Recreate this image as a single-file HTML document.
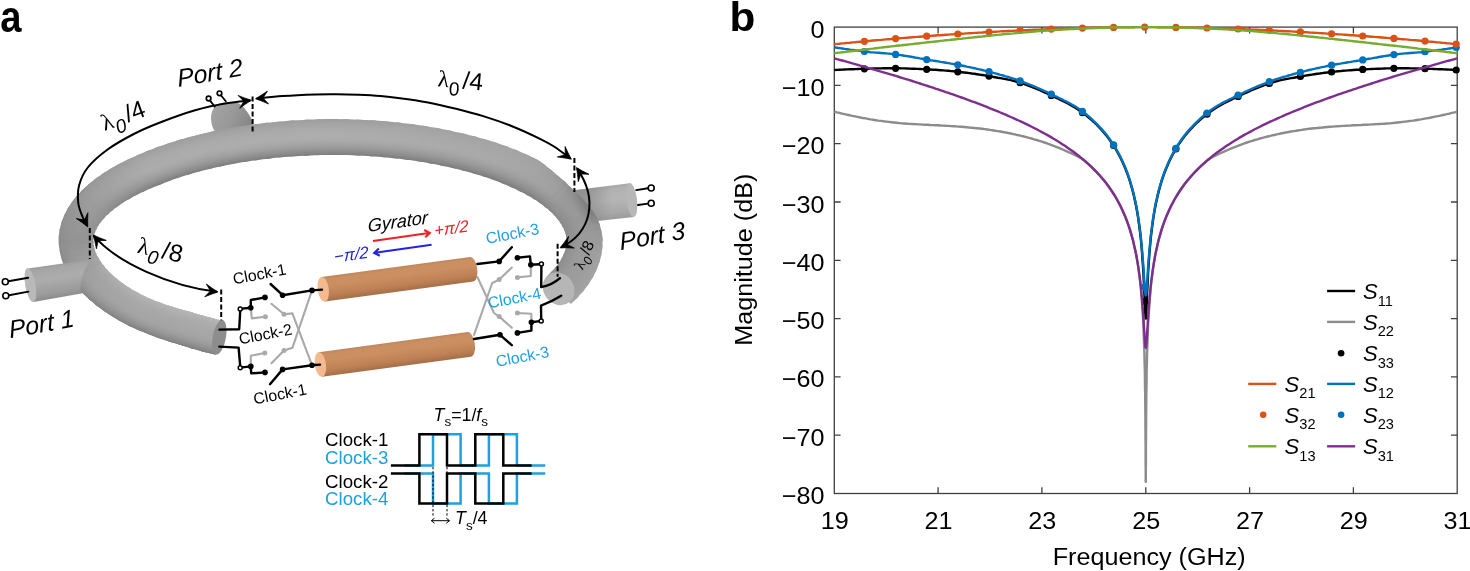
<!DOCTYPE html>
<html lang="en"><head><meta charset="utf-8"><title>Figure</title>
<style>
html,body{margin:0;padding:0;background:#fff;}
body{width:1470px;height:571px;overflow:hidden;}
svg{display:block;font-family:"Liberation Sans",Arial,Helvetica,sans-serif;}
</style></head><body>
<svg width="1470" height="571" viewBox="0 0 1470 571">
<defs>
<clipPath id="ringclip"><path d="M215.7,354.8 L210.7,353.6 L205.7,352.3 L200.7,351.0 L195.9,349.6 L191.0,348.2 L186.3,346.7 L181.6,345.2 L176.9,343.8 L172.3,342.4 L167.8,341.0 L163.3,339.5 L158.9,337.9 L154.5,336.4 L150.2,334.8 L146.0,333.1 L141.9,331.4 L137.8,329.7 L133.8,328.0 L129.9,326.2 L126.1,324.3 L122.4,322.3 L118.8,320.3 L115.3,318.2 L111.8,316.1 L108.5,313.9 L105.2,311.7 L102.1,309.5 L99.0,307.2 L96.0,304.9 L93.1,302.6 L90.3,300.2 L87.6,297.8 L85.0,295.3 L82.5,292.8 L80.1,290.2 L77.9,287.6 L75.7,284.9 L73.6,282.2 L71.7,279.5 L69.9,276.7 L68.1,273.8 L66.6,270.9 L65.1,267.9 L63.8,264.9 L62.6,261.9 L61.6,258.8 L60.7,255.7 L60.0,252.5 L59.4,249.3 L59.0,246.1 L58.7,242.9 L58.6,239.7 L58.8,236.5 L59.1,233.4 L59.5,230.3 L60.2,227.2 L61.0,224.1 L61.9,221.1 L63.0,218.2 L64.2,215.2 L65.6,212.4 L67.1,209.6 L68.8,206.8 L70.5,204.1 L72.4,201.4 L74.4,198.8 L76.5,196.2 L78.7,193.7 L81.0,191.3 L83.4,188.9 L86.0,186.5 L88.6,184.2 L91.3,181.9 L94.2,179.7 L97.1,177.5 L100.1,175.4 L103.2,173.2 L106.4,171.2 L109.7,169.2 L113.1,167.2 L116.5,165.3 L120.1,163.4 L123.7,161.5 L127.4,159.7 L131.2,157.9 L135.1,156.2 L139.1,154.5 L143.1,152.8 L147.2,151.1 L151.4,149.5 L155.6,147.8 L159.9,146.3 L164.3,144.7 L168.8,143.2 L173.3,141.8 L177.9,140.3 L182.6,139.0 L187.3,137.6 L192.1,136.4 L197.0,135.1 L201.9,133.9 L206.8,132.7 L211.9,131.6 L216.9,130.6 L222.0,129.5 L227.2,128.6 L232.4,127.6 L237.7,126.8 L243.0,125.9 L248.3,125.1 L253.7,124.4 L259.1,123.7 L264.5,123.1 L270.0,122.5 L275.5,121.9 L281.0,121.4 L286.5,120.9 L292.1,120.5 L297.7,120.2 L303.3,119.9 L308.9,119.6 L314.5,119.4 L320.1,119.3 L325.7,119.1 L331.3,119.1 L337.0,119.1 L342.6,119.2 L348.2,119.3 L353.8,119.5 L359.4,119.7 L365.0,120.0 L370.6,120.3 L376.2,120.6 L381.7,121.1 L387.2,121.5 L392.7,122.0 L398.2,122.6 L403.6,123.2 L409.0,123.8 L414.4,124.6 L419.7,125.3 L425.0,126.1 L430.3,126.9 L435.5,127.8 L440.6,128.8 L445.8,129.8 L450.8,130.8 L455.9,131.9 L460.8,133.0 L465.7,134.1 L470.6,135.4 L475.4,136.6 L480.1,137.9 L484.8,139.2 L489.4,140.6 L494.0,142.1 L498.4,143.5 L502.8,145.0 L507.2,146.6 L511.4,148.2 L515.6,149.8 L519.7,151.5 L523.7,153.2 L527.7,155.0 L531.5,156.8 L535.3,158.7 L539.0,160.6 L542.3,163.0 L545.6,165.4 L548.7,167.9 L551.8,170.4 L554.7,172.9 L557.5,175.4 L560.3,177.8 L563.1,180.1 L565.8,182.5 L568.3,184.9 L570.8,187.4 L573.1,189.8 L575.4,192.3 L577.9,194.4 L580.3,196.7 L582.7,199.0 L584.9,201.3 L587.0,203.7 L589.0,206.2 L591.0,208.7 L592.9,211.3 L594.6,213.9 L596.3,216.7 L597.8,219.5 L599.0,222.4 L600.0,225.5 L600.8,228.5 L601.5,231.6 L602.1,234.8 L602.5,238.0 L602.6,241.2 L602.5,244.5 L602.3,247.8 L601.9,251.1 L601.4,254.4 L600.7,257.6 L599.8,260.9 L598.8,264.1 L597.6,267.2 L596.3,270.3 L594.8,273.4 L593.3,276.4 L591.5,279.4 L589.7,282.4 L587.7,285.2 L585.7,288.1 L583.5,290.9 L581.1,293.6 L578.7,296.3 L576.2,299.0 L573.5,301.6 L570.8,304.1 L546.6,276.4 L548.6,274.6 L550.5,272.7 L552.3,270.8 L554.0,269.0 L555.6,267.2 L557.0,265.3 L558.4,263.5 L559.6,261.7 L560.7,260.0 L561.7,258.2 L562.6,256.5 L563.4,254.8 L564.1,253.1 L564.7,251.5 L565.3,249.8 L565.7,248.3 L566.0,246.7 L566.3,245.1 L566.5,243.6 L566.6,242.1 L566.6,240.6 L566.5,239.2 L566.4,237.9 L566.2,236.6 L565.9,235.2 L565.6,233.9 L565.1,232.6 L564.6,231.2 L564.1,229.8 L563.4,228.3 L562.7,226.9 L561.9,225.4 L560.9,223.8 L559.9,222.3 L558.7,220.7 L557.5,219.1 L556.1,217.5 L554.7,215.8 L553.1,214.1 L551.4,212.5 L549.6,210.8 L547.7,209.1 L545.6,207.4 L543.5,205.7 L541.2,204.0 L538.8,202.3 L536.3,200.6 L533.7,199.0 L531.0,197.3 L528.2,195.7 L525.3,194.1 L522.3,192.5 L519.1,190.9 L515.9,189.3 L512.6,187.7 L509.2,186.2 L505.7,184.7 L502.1,183.2 L498.4,181.8 L494.6,180.3 L490.8,178.9 L486.9,177.6 L482.8,176.3 L478.7,175.0 L474.6,173.7 L470.3,172.5 L466.0,171.3 L461.6,170.2 L457.1,169.0 L452.6,168.0 L448.0,166.9 L443.4,165.9 L438.7,165.0 L433.9,164.1 L429.1,163.2 L424.3,162.3 L419.4,161.6 L414.4,160.8 L409.4,160.1 L404.4,159.4 L399.3,158.8 L394.2,158.2 L389.1,157.7 L383.9,157.2 L378.8,156.8 L373.5,156.4 L368.3,156.0 L363.0,155.7 L357.8,155.5 L352.5,155.3 L347.2,155.1 L341.9,155.0 L336.6,154.9 L331.3,154.9 L326.0,154.9 L320.6,155.1 L315.3,155.2 L310.0,155.4 L304.8,155.7 L299.5,155.9 L294.2,156.3 L289.0,156.7 L283.8,157.1 L278.6,157.6 L273.4,158.1 L268.3,158.7 L263.2,159.3 L258.1,159.9 L253.1,160.6 L248.1,161.4 L243.1,162.1 L238.2,163.0 L233.4,163.8 L228.6,164.8 L223.8,165.7 L219.1,166.7 L214.4,167.7 L209.9,168.8 L205.3,169.9 L200.9,171.1 L196.5,172.2 L192.2,173.5 L187.9,174.7 L183.8,176.0 L179.7,177.3 L175.6,178.7 L171.7,180.1 L167.8,181.5 L164.1,182.9 L160.4,184.4 L156.8,185.9 L153.2,187.3 L149.8,188.7 L146.4,190.2 L143.2,191.7 L140.0,193.2 L136.9,194.7 L134.0,196.3 L131.1,197.9 L128.3,199.4 L125.7,201.0 L123.1,202.6 L120.7,204.2 L118.3,205.9 L116.1,207.5 L114.0,209.1 L112.0,210.7 L110.1,212.3 L108.3,213.9 L106.6,215.5 L105.1,217.1 L103.6,218.7 L102.3,220.3 L101.0,221.8 L99.9,223.3 L98.9,224.8 L97.9,226.3 L97.1,227.7 L96.4,229.2 L95.7,230.6 L95.2,231.9 L94.7,233.3 L94.3,234.6 L94.0,235.9 L93.7,237.3 L93.5,238.6 L93.4,239.9 L93.4,241.4 L93.5,242.9 L93.6,244.4 L93.9,245.9 L94.2,247.5 L94.6,249.1 L95.1,250.7 L95.7,252.3 L96.3,253.9 L97.1,255.6 L98.0,257.3 L99.0,259.0 L100.0,260.8 L101.2,262.5 L102.5,264.3 L103.9,266.1 L105.4,268.0 L107.1,269.8 L108.8,271.6 L110.6,273.5 L112.6,275.3 L114.7,277.1 L116.9,279.0 L119.2,280.8 L121.6,282.6 L124.2,284.4 L126.8,286.2 L129.6,288.0 L132.4,289.7 L135.4,291.4 L138.5,293.1 L141.6,294.8 L144.9,296.4 L148.3,297.9 L151.8,299.4 L155.4,300.9 L159.1,302.3 L162.9,303.7 L166.7,305.0 L170.7,306.3 L174.7,307.5 L178.8,308.7 L182.9,309.9 L187.2,311.0 L191.4,312.2 L195.7,313.6 L200.1,314.9 L204.5,316.1 L209.0,317.3 L213.6,318.5 L218.2,319.7 L222.9,320.7Z"/></clipPath>
<linearGradient id="rg0" gradientUnits="userSpaceOnUse" x1="217.3" y1="319.4" x2="209.7" y2="353.3"><stop offset="0.000" stop-color="#b6b6b6"/><stop offset="0.125" stop-color="#afafaf"/><stop offset="0.250" stop-color="#ababab"/><stop offset="0.375" stop-color="#a8a8a8"/><stop offset="0.500" stop-color="#a7a7a7"/><stop offset="0.625" stop-color="#a5a5a5"/><stop offset="0.750" stop-color="#9d9d9d"/><stop offset="0.875" stop-color="#919191"/><stop offset="1.000" stop-color="#808080"/></linearGradient>
<linearGradient id="rg1" gradientUnits="userSpaceOnUse" x1="206.3" y1="316.6" x2="197.8" y2="350.1"><stop offset="0.000" stop-color="#b6b6b6"/><stop offset="0.125" stop-color="#afafaf"/><stop offset="0.250" stop-color="#ababab"/><stop offset="0.375" stop-color="#a8a8a8"/><stop offset="0.500" stop-color="#a7a7a7"/><stop offset="0.625" stop-color="#a4a4a4"/><stop offset="0.750" stop-color="#9d9d9d"/><stop offset="0.875" stop-color="#919191"/><stop offset="1.000" stop-color="#808080"/></linearGradient>
<linearGradient id="rg2" gradientUnits="userSpaceOnUse" x1="195.7" y1="313.5" x2="186.2" y2="346.7"><stop offset="0.000" stop-color="#b5b5b5"/><stop offset="0.125" stop-color="#afafaf"/><stop offset="0.250" stop-color="#aaaaaa"/><stop offset="0.375" stop-color="#a8a8a8"/><stop offset="0.500" stop-color="#a7a7a7"/><stop offset="0.625" stop-color="#a4a4a4"/><stop offset="0.750" stop-color="#9d9d9d"/><stop offset="0.875" stop-color="#919191"/><stop offset="1.000" stop-color="#808080"/></linearGradient>
<linearGradient id="rg3" gradientUnits="userSpaceOnUse" x1="185.4" y1="310.6" x2="175.0" y2="343.2"><stop offset="0.000" stop-color="#b5b5b5"/><stop offset="0.125" stop-color="#afafaf"/><stop offset="0.250" stop-color="#aaaaaa"/><stop offset="0.375" stop-color="#a7a7a7"/><stop offset="0.500" stop-color="#a7a7a7"/><stop offset="0.625" stop-color="#a4a4a4"/><stop offset="0.750" stop-color="#9d9d9d"/><stop offset="0.875" stop-color="#919191"/><stop offset="1.000" stop-color="#808080"/></linearGradient>
<linearGradient id="rg4" gradientUnits="userSpaceOnUse" x1="175.4" y1="307.7" x2="164.0" y2="339.7"><stop offset="0.000" stop-color="#b5b5b5"/><stop offset="0.125" stop-color="#afafaf"/><stop offset="0.250" stop-color="#aaaaaa"/><stop offset="0.375" stop-color="#a7a7a7"/><stop offset="0.500" stop-color="#a6a6a6"/><stop offset="0.625" stop-color="#a4a4a4"/><stop offset="0.750" stop-color="#9d9d9d"/><stop offset="0.875" stop-color="#919191"/><stop offset="1.000" stop-color="#808080"/></linearGradient>
<linearGradient id="rg5" gradientUnits="userSpaceOnUse" x1="165.8" y1="304.7" x2="153.5" y2="336.0"><stop offset="0.000" stop-color="#b5b5b5"/><stop offset="0.125" stop-color="#aeaeae"/><stop offset="0.250" stop-color="#aaaaaa"/><stop offset="0.375" stop-color="#a7a7a7"/><stop offset="0.500" stop-color="#a6a6a6"/><stop offset="0.625" stop-color="#a4a4a4"/><stop offset="0.750" stop-color="#9d9d9d"/><stop offset="0.875" stop-color="#919191"/><stop offset="1.000" stop-color="#808080"/></linearGradient>
<linearGradient id="rg6" gradientUnits="userSpaceOnUse" x1="156.7" y1="301.4" x2="143.4" y2="332.0"><stop offset="0.000" stop-color="#b4b4b4"/><stop offset="0.125" stop-color="#aeaeae"/><stop offset="0.250" stop-color="#aaaaaa"/><stop offset="0.375" stop-color="#a7a7a7"/><stop offset="0.500" stop-color="#a6a6a6"/><stop offset="0.625" stop-color="#a4a4a4"/><stop offset="0.750" stop-color="#9d9d9d"/><stop offset="0.875" stop-color="#919191"/><stop offset="1.000" stop-color="#808080"/></linearGradient>
<linearGradient id="rg7" gradientUnits="userSpaceOnUse" x1="148.2" y1="297.9" x2="133.6" y2="327.9"><stop offset="0.000" stop-color="#b4b4b4"/><stop offset="0.125" stop-color="#aeaeae"/><stop offset="0.250" stop-color="#aaaaaa"/><stop offset="0.375" stop-color="#a7a7a7"/><stop offset="0.500" stop-color="#a6a6a6"/><stop offset="0.625" stop-color="#a4a4a4"/><stop offset="0.750" stop-color="#9d9d9d"/><stop offset="0.875" stop-color="#919191"/><stop offset="1.000" stop-color="#808080"/></linearGradient>
<linearGradient id="rg8" gradientUnits="userSpaceOnUse" x1="140.2" y1="294.0" x2="124.4" y2="323.4"><stop offset="0.000" stop-color="#b4b4b4"/><stop offset="0.125" stop-color="#aeaeae"/><stop offset="0.250" stop-color="#a9a9a9"/><stop offset="0.375" stop-color="#a7a7a7"/><stop offset="0.500" stop-color="#a6a6a6"/><stop offset="0.625" stop-color="#a3a3a3"/><stop offset="0.750" stop-color="#9c9c9c"/><stop offset="0.875" stop-color="#919191"/><stop offset="1.000" stop-color="#808080"/></linearGradient>
<linearGradient id="rg9" gradientUnits="userSpaceOnUse" x1="132.8" y1="289.9" x2="115.7" y2="318.5"><stop offset="0.000" stop-color="#b2b2b2"/><stop offset="0.125" stop-color="#adadad"/><stop offset="0.250" stop-color="#a8a8a8"/><stop offset="0.375" stop-color="#a6a6a6"/><stop offset="0.500" stop-color="#a5a5a5"/><stop offset="0.625" stop-color="#a3a3a3"/><stop offset="0.750" stop-color="#9c9c9c"/><stop offset="0.875" stop-color="#919191"/><stop offset="1.000" stop-color="#818181"/></linearGradient>
<linearGradient id="rg10" gradientUnits="userSpaceOnUse" x1="126.1" y1="285.7" x2="107.6" y2="313.3"><stop offset="0.000" stop-color="#b1b1b1"/><stop offset="0.125" stop-color="#acacac"/><stop offset="0.250" stop-color="#a8a8a8"/><stop offset="0.375" stop-color="#a5a5a5"/><stop offset="0.500" stop-color="#a5a5a5"/><stop offset="0.625" stop-color="#a2a2a2"/><stop offset="0.750" stop-color="#9c9c9c"/><stop offset="0.875" stop-color="#919191"/><stop offset="1.000" stop-color="#828282"/></linearGradient>
<linearGradient id="rg11" gradientUnits="userSpaceOnUse" x1="120.0" y1="281.4" x2="100.0" y2="307.9"><stop offset="0.000" stop-color="#b0b0b0"/><stop offset="0.125" stop-color="#ababab"/><stop offset="0.250" stop-color="#a7a7a7"/><stop offset="0.375" stop-color="#a5a5a5"/><stop offset="0.500" stop-color="#a4a4a4"/><stop offset="0.625" stop-color="#a2a2a2"/><stop offset="0.750" stop-color="#9c9c9c"/><stop offset="0.875" stop-color="#919191"/><stop offset="1.000" stop-color="#838383"/></linearGradient>
<linearGradient id="rg12" gradientUnits="userSpaceOnUse" x1="114.5" y1="277.0" x2="92.9" y2="302.4"><stop offset="0.000" stop-color="#afafaf"/><stop offset="0.125" stop-color="#aaaaaa"/><stop offset="0.250" stop-color="#a6a6a6"/><stop offset="0.375" stop-color="#a4a4a4"/><stop offset="0.500" stop-color="#a3a3a3"/><stop offset="0.625" stop-color="#a1a1a1"/><stop offset="0.750" stop-color="#9c9c9c"/><stop offset="0.875" stop-color="#929292"/><stop offset="1.000" stop-color="#848484"/></linearGradient>
<linearGradient id="rg13" gradientUnits="userSpaceOnUse" x1="109.7" y1="272.6" x2="86.3" y2="296.6"><stop offset="0.000" stop-color="#aeaeae"/><stop offset="0.125" stop-color="#a9a9a9"/><stop offset="0.250" stop-color="#a5a5a5"/><stop offset="0.375" stop-color="#a3a3a3"/><stop offset="0.500" stop-color="#a3a3a3"/><stop offset="0.625" stop-color="#a1a1a1"/><stop offset="0.750" stop-color="#9b9b9b"/><stop offset="0.875" stop-color="#929292"/><stop offset="1.000" stop-color="#858585"/></linearGradient>
<linearGradient id="rg14" gradientUnits="userSpaceOnUse" x1="105.6" y1="268.1" x2="80.4" y2="290.5"><stop offset="0.000" stop-color="#acacac"/><stop offset="0.125" stop-color="#a8a8a8"/><stop offset="0.250" stop-color="#a5a5a5"/><stop offset="0.375" stop-color="#a3a3a3"/><stop offset="0.500" stop-color="#a2a2a2"/><stop offset="0.625" stop-color="#a0a0a0"/><stop offset="0.750" stop-color="#9b9b9b"/><stop offset="0.875" stop-color="#929292"/><stop offset="1.000" stop-color="#868686"/></linearGradient>
<linearGradient id="rg15" gradientUnits="userSpaceOnUse" x1="102.1" y1="263.8" x2="75.0" y2="284.1"><stop offset="0.000" stop-color="#aaaaaa"/><stop offset="0.125" stop-color="#a6a6a6"/><stop offset="0.250" stop-color="#a3a3a3"/><stop offset="0.375" stop-color="#a1a1a1"/><stop offset="0.500" stop-color="#a1a1a1"/><stop offset="0.625" stop-color="#9f9f9f"/><stop offset="0.750" stop-color="#9a9a9a"/><stop offset="0.875" stop-color="#929292"/><stop offset="1.000" stop-color="#878787"/></linearGradient>
<linearGradient id="rg16" gradientUnits="userSpaceOnUse" x1="99.3" y1="259.5" x2="70.4" y2="277.5"><stop offset="0.000" stop-color="#a7a7a7"/><stop offset="0.125" stop-color="#a3a3a3"/><stop offset="0.250" stop-color="#a0a0a0"/><stop offset="0.375" stop-color="#9f9f9f"/><stop offset="0.500" stop-color="#9e9e9e"/><stop offset="0.625" stop-color="#9d9d9d"/><stop offset="0.750" stop-color="#999999"/><stop offset="0.875" stop-color="#919191"/><stop offset="1.000" stop-color="#878787"/></linearGradient>
<linearGradient id="rg17" gradientUnits="userSpaceOnUse" x1="97.0" y1="255.4" x2="66.4" y2="270.5"><stop offset="0.000" stop-color="#a4a4a4"/><stop offset="0.125" stop-color="#a0a0a0"/><stop offset="0.250" stop-color="#9e9e9e"/><stop offset="0.375" stop-color="#9d9d9d"/><stop offset="0.500" stop-color="#9c9c9c"/><stop offset="0.625" stop-color="#9b9b9b"/><stop offset="0.750" stop-color="#979797"/><stop offset="0.875" stop-color="#919191"/><stop offset="1.000" stop-color="#888888"/></linearGradient>
<linearGradient id="rg18" gradientUnits="userSpaceOnUse" x1="95.4" y1="251.4" x2="63.2" y2="263.3"><stop offset="0.000" stop-color="#a1a1a1"/><stop offset="0.125" stop-color="#9e9e9e"/><stop offset="0.250" stop-color="#9c9c9c"/><stop offset="0.375" stop-color="#9a9a9a"/><stop offset="0.500" stop-color="#9a9a9a"/><stop offset="0.625" stop-color="#999999"/><stop offset="0.750" stop-color="#969696"/><stop offset="0.875" stop-color="#919191"/><stop offset="1.000" stop-color="#898989"/></linearGradient>
<linearGradient id="rg19" gradientUnits="userSpaceOnUse" x1="94.2" y1="247.6" x2="60.8" y2="255.9"><stop offset="0.000" stop-color="#9d9d9d"/><stop offset="0.125" stop-color="#9b9b9b"/><stop offset="0.250" stop-color="#999999"/><stop offset="0.375" stop-color="#989898"/><stop offset="0.500" stop-color="#989898"/><stop offset="0.625" stop-color="#979797"/><stop offset="0.750" stop-color="#949494"/><stop offset="0.875" stop-color="#909090"/><stop offset="1.000" stop-color="#8a8a8a"/></linearGradient>
<linearGradient id="rg20" gradientUnits="userSpaceOnUse" x1="93.6" y1="243.9" x2="59.2" y2="248.3"><stop offset="0.000" stop-color="#9a9a9a"/><stop offset="0.125" stop-color="#989898"/><stop offset="0.250" stop-color="#979797"/><stop offset="0.375" stop-color="#969696"/><stop offset="0.500" stop-color="#959595"/><stop offset="0.625" stop-color="#959595"/><stop offset="0.750" stop-color="#939393"/><stop offset="0.875" stop-color="#909090"/><stop offset="1.000" stop-color="#8b8b8b"/></linearGradient>
<linearGradient id="rg21" gradientUnits="userSpaceOnUse" x1="93.4" y1="240.2" x2="58.6" y2="240.5"><stop offset="0.000" stop-color="#979797"/><stop offset="0.125" stop-color="#959595"/><stop offset="0.250" stop-color="#949494"/><stop offset="0.375" stop-color="#939393"/><stop offset="0.500" stop-color="#939393"/><stop offset="0.625" stop-color="#939393"/><stop offset="0.750" stop-color="#919191"/><stop offset="0.875" stop-color="#8f8f8f"/><stop offset="1.000" stop-color="#8c8c8c"/></linearGradient>
<linearGradient id="rg22" gradientUnits="userSpaceOnUse" x1="93.7" y1="237.1" x2="59.1" y2="232.9"><stop offset="0.000" stop-color="#969696"/><stop offset="0.125" stop-color="#959595"/><stop offset="0.250" stop-color="#959595"/><stop offset="0.375" stop-color="#949494"/><stop offset="0.500" stop-color="#949494"/><stop offset="0.625" stop-color="#949494"/><stop offset="0.750" stop-color="#929292"/><stop offset="0.875" stop-color="#909090"/><stop offset="1.000" stop-color="#8d8d8d"/></linearGradient>
<linearGradient id="rg23" gradientUnits="userSpaceOnUse" x1="94.5" y1="233.9" x2="60.6" y2="225.5"><stop offset="0.000" stop-color="#949494"/><stop offset="0.125" stop-color="#959595"/><stop offset="0.250" stop-color="#959595"/><stop offset="0.375" stop-color="#969696"/><stop offset="0.500" stop-color="#969696"/><stop offset="0.625" stop-color="#959595"/><stop offset="0.750" stop-color="#949494"/><stop offset="0.875" stop-color="#919191"/><stop offset="1.000" stop-color="#8e8e8e"/></linearGradient>
<linearGradient id="rg24" gradientUnits="userSpaceOnUse" x1="95.7" y1="230.6" x2="63.0" y2="218.3"><stop offset="0.000" stop-color="#939393"/><stop offset="0.125" stop-color="#959595"/><stop offset="0.250" stop-color="#969696"/><stop offset="0.375" stop-color="#979797"/><stop offset="0.500" stop-color="#979797"/><stop offset="0.625" stop-color="#969696"/><stop offset="0.750" stop-color="#959595"/><stop offset="0.875" stop-color="#939393"/><stop offset="1.000" stop-color="#8f8f8f"/></linearGradient>
<linearGradient id="rg25" gradientUnits="userSpaceOnUse" x1="97.4" y1="227.2" x2="66.2" y2="211.3"><stop offset="0.000" stop-color="#929292"/><stop offset="0.125" stop-color="#949494"/><stop offset="0.250" stop-color="#969696"/><stop offset="0.375" stop-color="#989898"/><stop offset="0.500" stop-color="#989898"/><stop offset="0.625" stop-color="#989898"/><stop offset="0.750" stop-color="#969696"/><stop offset="0.875" stop-color="#949494"/><stop offset="1.000" stop-color="#919191"/></linearGradient>
<linearGradient id="rg26" gradientUnits="userSpaceOnUse" x1="99.7" y1="223.7" x2="70.1" y2="204.7"><stop offset="0.000" stop-color="#909090"/><stop offset="0.125" stop-color="#949494"/><stop offset="0.250" stop-color="#979797"/><stop offset="0.375" stop-color="#999999"/><stop offset="0.500" stop-color="#9a9a9a"/><stop offset="0.625" stop-color="#999999"/><stop offset="0.750" stop-color="#989898"/><stop offset="0.875" stop-color="#959595"/><stop offset="1.000" stop-color="#929292"/></linearGradient>
<linearGradient id="rg27" gradientUnits="userSpaceOnUse" x1="102.5" y1="220.0" x2="74.8" y2="198.3"><stop offset="0.000" stop-color="#8f8f8f"/><stop offset="0.125" stop-color="#949494"/><stop offset="0.250" stop-color="#979797"/><stop offset="0.375" stop-color="#9a9a9a"/><stop offset="0.500" stop-color="#9b9b9b"/><stop offset="0.625" stop-color="#9a9a9a"/><stop offset="0.750" stop-color="#999999"/><stop offset="0.875" stop-color="#979797"/><stop offset="1.000" stop-color="#939393"/></linearGradient>
<linearGradient id="rg28" gradientUnits="userSpaceOnUse" x1="106.0" y1="216.2" x2="80.1" y2="192.3"><stop offset="0.000" stop-color="#8e8e8e"/><stop offset="0.125" stop-color="#939393"/><stop offset="0.250" stop-color="#989898"/><stop offset="0.375" stop-color="#9b9b9b"/><stop offset="0.500" stop-color="#9c9c9c"/><stop offset="0.625" stop-color="#9c9c9c"/><stop offset="0.750" stop-color="#9a9a9a"/><stop offset="0.875" stop-color="#989898"/><stop offset="1.000" stop-color="#949494"/></linearGradient>
<linearGradient id="rg29" gradientUnits="userSpaceOnUse" x1="110.1" y1="212.3" x2="86.0" y2="186.5"><stop offset="0.000" stop-color="#8c8c8c"/><stop offset="0.125" stop-color="#939393"/><stop offset="0.250" stop-color="#999999"/><stop offset="0.375" stop-color="#9d9d9d"/><stop offset="0.500" stop-color="#9e9e9e"/><stop offset="0.625" stop-color="#9e9e9e"/><stop offset="0.750" stop-color="#9c9c9c"/><stop offset="0.875" stop-color="#999999"/><stop offset="1.000" stop-color="#959595"/></linearGradient>
<linearGradient id="rg30" gradientUnits="userSpaceOnUse" x1="114.8" y1="208.4" x2="92.5" y2="181.0"><stop offset="0.000" stop-color="#8a8a8a"/><stop offset="0.125" stop-color="#929292"/><stop offset="0.250" stop-color="#999999"/><stop offset="0.375" stop-color="#9e9e9e"/><stop offset="0.500" stop-color="#a0a0a0"/><stop offset="0.625" stop-color="#a0a0a0"/><stop offset="0.750" stop-color="#9e9e9e"/><stop offset="0.875" stop-color="#9b9b9b"/><stop offset="1.000" stop-color="#979797"/></linearGradient>
<linearGradient id="rg31" gradientUnits="userSpaceOnUse" x1="120.2" y1="204.5" x2="99.5" y2="175.8"><stop offset="0.000" stop-color="#888888"/><stop offset="0.125" stop-color="#929292"/><stop offset="0.250" stop-color="#9a9a9a"/><stop offset="0.375" stop-color="#a0a0a0"/><stop offset="0.500" stop-color="#a2a2a2"/><stop offset="0.625" stop-color="#a1a1a1"/><stop offset="0.750" stop-color="#a0a0a0"/><stop offset="0.875" stop-color="#9c9c9c"/><stop offset="1.000" stop-color="#989898"/></linearGradient>
<linearGradient id="rg32" gradientUnits="userSpaceOnUse" x1="126.2" y1="200.7" x2="107.1" y2="170.8"><stop offset="0.000" stop-color="#868686"/><stop offset="0.125" stop-color="#929292"/><stop offset="0.250" stop-color="#9b9b9b"/><stop offset="0.375" stop-color="#a1a1a1"/><stop offset="0.500" stop-color="#a4a4a4"/><stop offset="0.625" stop-color="#a3a3a3"/><stop offset="0.750" stop-color="#a1a1a1"/><stop offset="0.875" stop-color="#9e9e9e"/><stop offset="1.000" stop-color="#999999"/></linearGradient>
<linearGradient id="rg33" gradientUnits="userSpaceOnUse" x1="132.9" y1="196.9" x2="115.2" y2="166.0"><stop offset="0.000" stop-color="#848484"/><stop offset="0.125" stop-color="#919191"/><stop offset="0.250" stop-color="#9b9b9b"/><stop offset="0.375" stop-color="#a3a3a3"/><stop offset="0.500" stop-color="#a6a6a6"/><stop offset="0.625" stop-color="#a5a5a5"/><stop offset="0.750" stop-color="#a3a3a3"/><stop offset="0.875" stop-color="#9f9f9f"/><stop offset="1.000" stop-color="#9a9a9a"/></linearGradient>
<linearGradient id="rg34" gradientUnits="userSpaceOnUse" x1="140.1" y1="193.2" x2="123.8" y2="161.4"><stop offset="0.000" stop-color="#828282"/><stop offset="0.125" stop-color="#919191"/><stop offset="0.250" stop-color="#9c9c9c"/><stop offset="0.375" stop-color="#a4a4a4"/><stop offset="0.500" stop-color="#a8a8a8"/><stop offset="0.625" stop-color="#a7a7a7"/><stop offset="0.750" stop-color="#a5a5a5"/><stop offset="0.875" stop-color="#a1a1a1"/><stop offset="1.000" stop-color="#9b9b9b"/></linearGradient>
<linearGradient id="rg35" gradientUnits="userSpaceOnUse" x1="147.9" y1="189.6" x2="132.9" y2="157.1"><stop offset="0.000" stop-color="#808080"/><stop offset="0.125" stop-color="#909090"/><stop offset="0.250" stop-color="#9d9d9d"/><stop offset="0.375" stop-color="#a6a6a6"/><stop offset="0.500" stop-color="#aaaaaa"/><stop offset="0.625" stop-color="#a9a9a9"/><stop offset="0.750" stop-color="#a6a6a6"/><stop offset="0.875" stop-color="#a2a2a2"/><stop offset="1.000" stop-color="#9d9d9d"/></linearGradient>
<linearGradient id="rg36" gradientUnits="userSpaceOnUse" x1="156.2" y1="186.1" x2="142.5" y2="153.1"><stop offset="0.000" stop-color="#7e7e7e"/><stop offset="0.125" stop-color="#909090"/><stop offset="0.250" stop-color="#9e9e9e"/><stop offset="0.375" stop-color="#a7a7a7"/><stop offset="0.500" stop-color="#acacac"/><stop offset="0.625" stop-color="#ababab"/><stop offset="0.750" stop-color="#a8a8a8"/><stop offset="0.875" stop-color="#a4a4a4"/><stop offset="1.000" stop-color="#9e9e9e"/></linearGradient>
<linearGradient id="rg37" gradientUnits="userSpaceOnUse" x1="165.0" y1="182.6" x2="152.4" y2="149.1"><stop offset="0.000" stop-color="#7e7e7e"/><stop offset="0.125" stop-color="#909090"/><stop offset="0.250" stop-color="#9e9e9e"/><stop offset="0.375" stop-color="#a8a8a8"/><stop offset="0.500" stop-color="#acacac"/><stop offset="0.625" stop-color="#ababab"/><stop offset="0.750" stop-color="#a9a9a9"/><stop offset="0.875" stop-color="#a4a4a4"/><stop offset="1.000" stop-color="#9e9e9e"/></linearGradient>
<linearGradient id="rg38" gradientUnits="userSpaceOnUse" x1="174.3" y1="179.2" x2="162.8" y2="145.3"><stop offset="0.000" stop-color="#7e7e7e"/><stop offset="0.125" stop-color="#909090"/><stop offset="0.250" stop-color="#9e9e9e"/><stop offset="0.375" stop-color="#a8a8a8"/><stop offset="0.500" stop-color="#acacac"/><stop offset="0.625" stop-color="#ababab"/><stop offset="0.750" stop-color="#a9a9a9"/><stop offset="0.875" stop-color="#a4a4a4"/><stop offset="1.000" stop-color="#9e9e9e"/></linearGradient>
<linearGradient id="rg39" gradientUnits="userSpaceOnUse" x1="184.0" y1="175.9" x2="173.6" y2="141.7"><stop offset="0.000" stop-color="#7e7e7e"/><stop offset="0.125" stop-color="#909090"/><stop offset="0.250" stop-color="#9e9e9e"/><stop offset="0.375" stop-color="#a8a8a8"/><stop offset="0.500" stop-color="#acacac"/><stop offset="0.625" stop-color="#ababab"/><stop offset="0.750" stop-color="#a9a9a9"/><stop offset="0.875" stop-color="#a4a4a4"/><stop offset="1.000" stop-color="#9e9e9e"/></linearGradient>
<linearGradient id="rg40" gradientUnits="userSpaceOnUse" x1="194.2" y1="172.9" x2="184.8" y2="138.3"><stop offset="0.000" stop-color="#7e7e7e"/><stop offset="0.125" stop-color="#909090"/><stop offset="0.250" stop-color="#9e9e9e"/><stop offset="0.375" stop-color="#a8a8a8"/><stop offset="0.500" stop-color="#adadad"/><stop offset="0.625" stop-color="#acacac"/><stop offset="0.750" stop-color="#a9a9a9"/><stop offset="0.875" stop-color="#a4a4a4"/><stop offset="1.000" stop-color="#9d9d9d"/></linearGradient>
<linearGradient id="rg41" gradientUnits="userSpaceOnUse" x1="204.8" y1="170.1" x2="196.3" y2="135.3"><stop offset="0.000" stop-color="#7e7e7e"/><stop offset="0.125" stop-color="#909090"/><stop offset="0.250" stop-color="#9e9e9e"/><stop offset="0.375" stop-color="#a8a8a8"/><stop offset="0.500" stop-color="#adadad"/><stop offset="0.625" stop-color="#acacac"/><stop offset="0.750" stop-color="#a9a9a9"/><stop offset="0.875" stop-color="#a4a4a4"/><stop offset="1.000" stop-color="#9d9d9d"/></linearGradient>
<linearGradient id="rg42" gradientUnits="userSpaceOnUse" x1="215.7" y1="167.4" x2="208.2" y2="132.4"><stop offset="0.000" stop-color="#7e7e7e"/><stop offset="0.125" stop-color="#909090"/><stop offset="0.250" stop-color="#9e9e9e"/><stop offset="0.375" stop-color="#a8a8a8"/><stop offset="0.500" stop-color="#adadad"/><stop offset="0.625" stop-color="#acacac"/><stop offset="0.750" stop-color="#a9a9a9"/><stop offset="0.875" stop-color="#a4a4a4"/><stop offset="1.000" stop-color="#9d9d9d"/></linearGradient>
<linearGradient id="rg43" gradientUnits="userSpaceOnUse" x1="227.1" y1="165.0" x2="220.4" y2="129.9"><stop offset="0.000" stop-color="#7e7e7e"/><stop offset="0.125" stop-color="#909090"/><stop offset="0.250" stop-color="#9e9e9e"/><stop offset="0.375" stop-color="#a8a8a8"/><stop offset="0.500" stop-color="#adadad"/><stop offset="0.625" stop-color="#acacac"/><stop offset="0.750" stop-color="#a9a9a9"/><stop offset="0.875" stop-color="#a4a4a4"/><stop offset="1.000" stop-color="#9d9d9d"/></linearGradient>
<linearGradient id="rg44" gradientUnits="userSpaceOnUse" x1="238.7" y1="162.9" x2="232.9" y2="127.6"><stop offset="0.000" stop-color="#7e7e7e"/><stop offset="0.125" stop-color="#909090"/><stop offset="0.250" stop-color="#9f9f9f"/><stop offset="0.375" stop-color="#a9a9a9"/><stop offset="0.500" stop-color="#adadad"/><stop offset="0.625" stop-color="#acacac"/><stop offset="0.750" stop-color="#a9a9a9"/><stop offset="0.875" stop-color="#a4a4a4"/><stop offset="1.000" stop-color="#9d9d9d"/></linearGradient>
<linearGradient id="rg45" gradientUnits="userSpaceOnUse" x1="250.6" y1="161.0" x2="245.6" y2="125.5"><stop offset="0.000" stop-color="#7e7e7e"/><stop offset="0.125" stop-color="#909090"/><stop offset="0.250" stop-color="#9f9f9f"/><stop offset="0.375" stop-color="#a9a9a9"/><stop offset="0.500" stop-color="#adadad"/><stop offset="0.625" stop-color="#acacac"/><stop offset="0.750" stop-color="#a9a9a9"/><stop offset="0.875" stop-color="#a4a4a4"/><stop offset="1.000" stop-color="#9d9d9d"/></linearGradient>
<linearGradient id="rg46" gradientUnits="userSpaceOnUse" x1="262.7" y1="159.3" x2="258.6" y2="123.8"><stop offset="0.000" stop-color="#7e7e7e"/><stop offset="0.125" stop-color="#909090"/><stop offset="0.250" stop-color="#9f9f9f"/><stop offset="0.375" stop-color="#a9a9a9"/><stop offset="0.500" stop-color="#adadad"/><stop offset="0.625" stop-color="#acacac"/><stop offset="0.750" stop-color="#a9a9a9"/><stop offset="0.875" stop-color="#a4a4a4"/><stop offset="1.000" stop-color="#9d9d9d"/></linearGradient>
<linearGradient id="rg47" gradientUnits="userSpaceOnUse" x1="275.0" y1="157.9" x2="271.7" y2="122.3"><stop offset="0.000" stop-color="#7e7e7e"/><stop offset="0.125" stop-color="#909090"/><stop offset="0.250" stop-color="#9f9f9f"/><stop offset="0.375" stop-color="#a9a9a9"/><stop offset="0.500" stop-color="#adadad"/><stop offset="0.625" stop-color="#acacac"/><stop offset="0.750" stop-color="#a9a9a9"/><stop offset="0.875" stop-color="#a4a4a4"/><stop offset="1.000" stop-color="#9d9d9d"/></linearGradient>
<linearGradient id="rg48" gradientUnits="userSpaceOnUse" x1="287.5" y1="156.8" x2="285.0" y2="121.1"><stop offset="0.000" stop-color="#7e7e7e"/><stop offset="0.125" stop-color="#909090"/><stop offset="0.250" stop-color="#9f9f9f"/><stop offset="0.375" stop-color="#a9a9a9"/><stop offset="0.500" stop-color="#aeaeae"/><stop offset="0.625" stop-color="#acacac"/><stop offset="0.750" stop-color="#a9a9a9"/><stop offset="0.875" stop-color="#a4a4a4"/><stop offset="1.000" stop-color="#9c9c9c"/></linearGradient>
<linearGradient id="rg49" gradientUnits="userSpaceOnUse" x1="300.1" y1="155.9" x2="298.4" y2="120.1"><stop offset="0.000" stop-color="#7e7e7e"/><stop offset="0.125" stop-color="#909090"/><stop offset="0.250" stop-color="#9f9f9f"/><stop offset="0.375" stop-color="#a9a9a9"/><stop offset="0.500" stop-color="#aeaeae"/><stop offset="0.625" stop-color="#adadad"/><stop offset="0.750" stop-color="#a9a9a9"/><stop offset="0.875" stop-color="#a4a4a4"/><stop offset="1.000" stop-color="#9c9c9c"/></linearGradient>
<linearGradient id="rg50" gradientUnits="userSpaceOnUse" x1="312.9" y1="155.3" x2="311.8" y2="119.5"><stop offset="0.000" stop-color="#7e7e7e"/><stop offset="0.125" stop-color="#909090"/><stop offset="0.250" stop-color="#9f9f9f"/><stop offset="0.375" stop-color="#a9a9a9"/><stop offset="0.500" stop-color="#aeaeae"/><stop offset="0.625" stop-color="#adadad"/><stop offset="0.750" stop-color="#a9a9a9"/><stop offset="0.875" stop-color="#a4a4a4"/><stop offset="1.000" stop-color="#9c9c9c"/></linearGradient>
<linearGradient id="rg51" gradientUnits="userSpaceOnUse" x1="325.6" y1="155.0" x2="325.4" y2="119.2"><stop offset="0.000" stop-color="#7e7e7e"/><stop offset="0.125" stop-color="#919191"/><stop offset="0.250" stop-color="#9f9f9f"/><stop offset="0.375" stop-color="#a9a9a9"/><stop offset="0.500" stop-color="#aeaeae"/><stop offset="0.625" stop-color="#adadad"/><stop offset="0.750" stop-color="#a9a9a9"/><stop offset="0.875" stop-color="#a4a4a4"/><stop offset="1.000" stop-color="#9c9c9c"/></linearGradient>
<linearGradient id="rg52" gradientUnits="userSpaceOnUse" x1="338.4" y1="154.9" x2="338.9" y2="119.1"><stop offset="0.000" stop-color="#7e7e7e"/><stop offset="0.125" stop-color="#909090"/><stop offset="0.250" stop-color="#9f9f9f"/><stop offset="0.375" stop-color="#a9a9a9"/><stop offset="0.500" stop-color="#aeaeae"/><stop offset="0.625" stop-color="#adadad"/><stop offset="0.750" stop-color="#a9a9a9"/><stop offset="0.875" stop-color="#a4a4a4"/><stop offset="1.000" stop-color="#9c9c9c"/></linearGradient>
<linearGradient id="rg53" gradientUnits="userSpaceOnUse" x1="351.2" y1="155.2" x2="352.4" y2="119.4"><stop offset="0.000" stop-color="#7e7e7e"/><stop offset="0.125" stop-color="#909090"/><stop offset="0.250" stop-color="#9f9f9f"/><stop offset="0.375" stop-color="#a9a9a9"/><stop offset="0.500" stop-color="#adadad"/><stop offset="0.625" stop-color="#acacac"/><stop offset="0.750" stop-color="#a9a9a9"/><stop offset="0.875" stop-color="#a4a4a4"/><stop offset="1.000" stop-color="#9d9d9d"/></linearGradient>
<linearGradient id="rg54" gradientUnits="userSpaceOnUse" x1="363.9" y1="155.8" x2="365.9" y2="120.0"><stop offset="0.000" stop-color="#7e7e7e"/><stop offset="0.125" stop-color="#909090"/><stop offset="0.250" stop-color="#9e9e9e"/><stop offset="0.375" stop-color="#a8a8a8"/><stop offset="0.500" stop-color="#adadad"/><stop offset="0.625" stop-color="#acacac"/><stop offset="0.750" stop-color="#a9a9a9"/><stop offset="0.875" stop-color="#a4a4a4"/><stop offset="1.000" stop-color="#9d9d9d"/></linearGradient>
<linearGradient id="rg55" gradientUnits="userSpaceOnUse" x1="376.5" y1="156.6" x2="379.3" y2="120.9"><stop offset="0.000" stop-color="#7e7e7e"/><stop offset="0.125" stop-color="#909090"/><stop offset="0.250" stop-color="#9e9e9e"/><stop offset="0.375" stop-color="#a8a8a8"/><stop offset="0.500" stop-color="#adadad"/><stop offset="0.625" stop-color="#acacac"/><stop offset="0.750" stop-color="#a9a9a9"/><stop offset="0.875" stop-color="#a4a4a4"/><stop offset="1.000" stop-color="#9e9e9e"/></linearGradient>
<linearGradient id="rg56" gradientUnits="userSpaceOnUse" x1="389.0" y1="157.7" x2="392.6" y2="122.0"><stop offset="0.000" stop-color="#7d7d7d"/><stop offset="0.125" stop-color="#8f8f8f"/><stop offset="0.250" stop-color="#9e9e9e"/><stop offset="0.375" stop-color="#a8a8a8"/><stop offset="0.500" stop-color="#acacac"/><stop offset="0.625" stop-color="#ababab"/><stop offset="0.750" stop-color="#a9a9a9"/><stop offset="0.875" stop-color="#a4a4a4"/><stop offset="1.000" stop-color="#9e9e9e"/></linearGradient>
<linearGradient id="rg57" gradientUnits="userSpaceOnUse" x1="401.3" y1="159.0" x2="405.7" y2="123.4"><stop offset="0.000" stop-color="#7d7d7d"/><stop offset="0.125" stop-color="#8f8f8f"/><stop offset="0.250" stop-color="#9d9d9d"/><stop offset="0.375" stop-color="#a7a7a7"/><stop offset="0.500" stop-color="#acacac"/><stop offset="0.625" stop-color="#ababab"/><stop offset="0.750" stop-color="#a9a9a9"/><stop offset="0.875" stop-color="#a5a5a5"/><stop offset="1.000" stop-color="#9f9f9f"/></linearGradient>
<linearGradient id="rg58" gradientUnits="userSpaceOnUse" x1="413.4" y1="160.6" x2="418.6" y2="125.1"><stop offset="0.000" stop-color="#7d7d7d"/><stop offset="0.125" stop-color="#8f8f8f"/><stop offset="0.250" stop-color="#9d9d9d"/><stop offset="0.375" stop-color="#a7a7a7"/><stop offset="0.500" stop-color="#ababab"/><stop offset="0.625" stop-color="#ababab"/><stop offset="0.750" stop-color="#a8a8a8"/><stop offset="0.875" stop-color="#a5a5a5"/><stop offset="1.000" stop-color="#a0a0a0"/></linearGradient>
<linearGradient id="rg59" gradientUnits="userSpaceOnUse" x1="425.2" y1="162.5" x2="431.3" y2="127.1"><stop offset="0.000" stop-color="#7d7d7d"/><stop offset="0.125" stop-color="#8f8f8f"/><stop offset="0.250" stop-color="#9d9d9d"/><stop offset="0.375" stop-color="#a7a7a7"/><stop offset="0.500" stop-color="#ababab"/><stop offset="0.625" stop-color="#aaaaaa"/><stop offset="0.750" stop-color="#a8a8a8"/><stop offset="0.875" stop-color="#a5a5a5"/><stop offset="1.000" stop-color="#a0a0a0"/></linearGradient>
<linearGradient id="rg60" gradientUnits="userSpaceOnUse" x1="436.8" y1="164.6" x2="443.7" y2="129.4"><stop offset="0.000" stop-color="#7d7d7d"/><stop offset="0.125" stop-color="#8f8f8f"/><stop offset="0.250" stop-color="#9c9c9c"/><stop offset="0.375" stop-color="#a6a6a6"/><stop offset="0.500" stop-color="#ababab"/><stop offset="0.625" stop-color="#aaaaaa"/><stop offset="0.750" stop-color="#a8a8a8"/><stop offset="0.875" stop-color="#a5a5a5"/><stop offset="1.000" stop-color="#a1a1a1"/></linearGradient>
<linearGradient id="rg61" gradientUnits="userSpaceOnUse" x1="448.1" y1="166.9" x2="455.9" y2="131.9"><stop offset="0.000" stop-color="#7d7d7d"/><stop offset="0.125" stop-color="#8e8e8e"/><stop offset="0.250" stop-color="#9c9c9c"/><stop offset="0.375" stop-color="#a6a6a6"/><stop offset="0.500" stop-color="#aaaaaa"/><stop offset="0.625" stop-color="#aaaaaa"/><stop offset="0.750" stop-color="#a8a8a8"/><stop offset="0.875" stop-color="#a5a5a5"/><stop offset="1.000" stop-color="#a1a1a1"/></linearGradient>
<linearGradient id="rg62" gradientUnits="userSpaceOnUse" x1="459.0" y1="169.5" x2="467.8" y2="134.6"><stop offset="0.000" stop-color="#7d7d7d"/><stop offset="0.125" stop-color="#8e8e8e"/><stop offset="0.250" stop-color="#9c9c9c"/><stop offset="0.375" stop-color="#a5a5a5"/><stop offset="0.500" stop-color="#aaaaaa"/><stop offset="0.625" stop-color="#a9a9a9"/><stop offset="0.750" stop-color="#a8a8a8"/><stop offset="0.875" stop-color="#a5a5a5"/><stop offset="1.000" stop-color="#a2a2a2"/></linearGradient>
<linearGradient id="rg63" gradientUnits="userSpaceOnUse" x1="469.5" y1="172.3" x2="479.3" y2="137.7"><stop offset="0.000" stop-color="#7c7c7c"/><stop offset="0.125" stop-color="#8e8e8e"/><stop offset="0.250" stop-color="#9c9c9c"/><stop offset="0.375" stop-color="#a5a5a5"/><stop offset="0.500" stop-color="#a9a9a9"/><stop offset="0.625" stop-color="#a9a9a9"/><stop offset="0.750" stop-color="#a8a8a8"/><stop offset="0.875" stop-color="#a5a5a5"/><stop offset="1.000" stop-color="#a2a2a2"/></linearGradient>
<linearGradient id="rg64" gradientUnits="userSpaceOnUse" x1="479.7" y1="175.3" x2="490.4" y2="140.9"><stop offset="0.000" stop-color="#7c7c7c"/><stop offset="0.125" stop-color="#8e8e8e"/><stop offset="0.250" stop-color="#9b9b9b"/><stop offset="0.375" stop-color="#a5a5a5"/><stop offset="0.500" stop-color="#a9a9a9"/><stop offset="0.625" stop-color="#a9a9a9"/><stop offset="0.750" stop-color="#a7a7a7"/><stop offset="0.875" stop-color="#a5a5a5"/><stop offset="1.000" stop-color="#a3a3a3"/></linearGradient>
<linearGradient id="rg65" gradientUnits="userSpaceOnUse" x1="489.4" y1="178.4" x2="501.2" y2="144.5"><stop offset="0.000" stop-color="#7c7c7c"/><stop offset="0.125" stop-color="#8d8d8d"/><stop offset="0.250" stop-color="#9b9b9b"/><stop offset="0.375" stop-color="#a4a4a4"/><stop offset="0.500" stop-color="#a9a9a9"/><stop offset="0.625" stop-color="#a8a8a8"/><stop offset="0.750" stop-color="#a7a7a7"/><stop offset="0.875" stop-color="#a6a6a6"/><stop offset="1.000" stop-color="#a3a3a3"/></linearGradient>
<linearGradient id="rg66" gradientUnits="userSpaceOnUse" x1="498.6" y1="181.8" x2="511.6" y2="148.2"><stop offset="0.000" stop-color="#7c7c7c"/><stop offset="0.125" stop-color="#8d8d8d"/><stop offset="0.250" stop-color="#9b9b9b"/><stop offset="0.375" stop-color="#a4a4a4"/><stop offset="0.500" stop-color="#a8a8a8"/><stop offset="0.625" stop-color="#a8a8a8"/><stop offset="0.750" stop-color="#a7a7a7"/><stop offset="0.875" stop-color="#a6a6a6"/><stop offset="1.000" stop-color="#a4a4a4"/></linearGradient>
<linearGradient id="rg67" gradientUnits="userSpaceOnUse" x1="507.3" y1="185.4" x2="521.5" y2="152.3"><stop offset="0.000" stop-color="#7c7c7c"/><stop offset="0.125" stop-color="#8d8d8d"/><stop offset="0.250" stop-color="#9a9a9a"/><stop offset="0.375" stop-color="#a3a3a3"/><stop offset="0.500" stop-color="#a7a7a7"/><stop offset="0.625" stop-color="#a7a7a7"/><stop offset="0.750" stop-color="#a6a6a6"/><stop offset="0.875" stop-color="#a5a5a5"/><stop offset="1.000" stop-color="#a3a3a3"/></linearGradient>
<linearGradient id="rg68" gradientUnits="userSpaceOnUse" x1="515.4" y1="189.1" x2="531.0" y2="156.6"><stop offset="0.000" stop-color="#7d7d7d"/><stop offset="0.125" stop-color="#8d8d8d"/><stop offset="0.250" stop-color="#9a9a9a"/><stop offset="0.375" stop-color="#a2a2a2"/><stop offset="0.500" stop-color="#a6a6a6"/><stop offset="0.625" stop-color="#a6a6a6"/><stop offset="0.750" stop-color="#a5a5a5"/><stop offset="0.875" stop-color="#a4a4a4"/><stop offset="1.000" stop-color="#a2a2a2"/></linearGradient>
<linearGradient id="rg69" gradientUnits="userSpaceOnUse" x1="523.0" y1="192.9" x2="539.8" y2="161.3"><stop offset="0.000" stop-color="#7e7e7e"/><stop offset="0.125" stop-color="#8d8d8d"/><stop offset="0.250" stop-color="#999999"/><stop offset="0.375" stop-color="#a1a1a1"/><stop offset="0.500" stop-color="#a5a5a5"/><stop offset="0.625" stop-color="#a5a5a5"/><stop offset="0.750" stop-color="#a4a4a4"/><stop offset="0.875" stop-color="#a2a2a2"/><stop offset="1.000" stop-color="#a0a0a0"/></linearGradient>
<linearGradient id="rg70" gradientUnits="userSpaceOnUse" x1="530.1" y1="196.8" x2="547.7" y2="167.1"><stop offset="0.000" stop-color="#7f7f7f"/><stop offset="0.125" stop-color="#8d8d8d"/><stop offset="0.250" stop-color="#989898"/><stop offset="0.375" stop-color="#a0a0a0"/><stop offset="0.500" stop-color="#a4a4a4"/><stop offset="0.625" stop-color="#a3a3a3"/><stop offset="0.750" stop-color="#a2a2a2"/><stop offset="0.875" stop-color="#a1a1a1"/><stop offset="1.000" stop-color="#9e9e9e"/></linearGradient>
<linearGradient id="rg71" gradientUnits="userSpaceOnUse" x1="536.5" y1="200.8" x2="554.9" y2="173.0"><stop offset="0.000" stop-color="#808080"/><stop offset="0.125" stop-color="#8d8d8d"/><stop offset="0.250" stop-color="#989898"/><stop offset="0.375" stop-color="#9f9f9f"/><stop offset="0.500" stop-color="#a3a3a3"/><stop offset="0.625" stop-color="#a2a2a2"/><stop offset="0.750" stop-color="#a1a1a1"/><stop offset="0.875" stop-color="#9f9f9f"/><stop offset="1.000" stop-color="#9d9d9d"/></linearGradient>
<linearGradient id="rg72" gradientUnits="userSpaceOnUse" x1="542.3" y1="204.8" x2="561.7" y2="178.9"><stop offset="0.000" stop-color="#818181"/><stop offset="0.125" stop-color="#8d8d8d"/><stop offset="0.250" stop-color="#979797"/><stop offset="0.375" stop-color="#9e9e9e"/><stop offset="0.500" stop-color="#a1a1a1"/><stop offset="0.625" stop-color="#a0a0a0"/><stop offset="0.750" stop-color="#9f9f9f"/><stop offset="0.875" stop-color="#9c9c9c"/><stop offset="1.000" stop-color="#999999"/></linearGradient>
<linearGradient id="rg73" gradientUnits="userSpaceOnUse" x1="547.4" y1="208.9" x2="568.1" y2="184.6"><stop offset="0.000" stop-color="#848484"/><stop offset="0.125" stop-color="#8e8e8e"/><stop offset="0.250" stop-color="#969696"/><stop offset="0.375" stop-color="#9c9c9c"/><stop offset="0.500" stop-color="#9e9e9e"/><stop offset="0.625" stop-color="#9d9d9d"/><stop offset="0.750" stop-color="#9b9b9b"/><stop offset="0.875" stop-color="#979797"/><stop offset="1.000" stop-color="#929292"/></linearGradient>
<linearGradient id="rg74" gradientUnits="userSpaceOnUse" x1="551.9" y1="213.0" x2="573.8" y2="190.6"><stop offset="0.000" stop-color="#878787"/><stop offset="0.125" stop-color="#8f8f8f"/><stop offset="0.250" stop-color="#959595"/><stop offset="0.375" stop-color="#999999"/><stop offset="0.500" stop-color="#9b9b9b"/><stop offset="0.625" stop-color="#9a9a9a"/><stop offset="0.750" stop-color="#989898"/><stop offset="0.875" stop-color="#939393"/><stop offset="1.000" stop-color="#8c8c8c"/></linearGradient>
<linearGradient id="rg75" gradientUnits="userSpaceOnUse" x1="555.7" y1="217.0" x2="579.6" y2="196.0"><stop offset="0.000" stop-color="#888888"/><stop offset="0.125" stop-color="#8f8f8f"/><stop offset="0.250" stop-color="#949494"/><stop offset="0.375" stop-color="#989898"/><stop offset="0.500" stop-color="#9a9a9a"/><stop offset="0.625" stop-color="#999999"/><stop offset="0.750" stop-color="#959595"/><stop offset="0.875" stop-color="#909090"/><stop offset="1.000" stop-color="#888888"/></linearGradient>
<linearGradient id="rg76" gradientUnits="userSpaceOnUse" x1="558.9" y1="220.9" x2="585.1" y2="201.6"><stop offset="0.000" stop-color="#898989"/><stop offset="0.125" stop-color="#8f8f8f"/><stop offset="0.250" stop-color="#949494"/><stop offset="0.375" stop-color="#989898"/><stop offset="0.500" stop-color="#999999"/><stop offset="0.625" stop-color="#989898"/><stop offset="0.750" stop-color="#959595"/><stop offset="0.875" stop-color="#909090"/><stop offset="1.000" stop-color="#888888"/></linearGradient>
<linearGradient id="rg77" gradientUnits="userSpaceOnUse" x1="561.4" y1="224.6" x2="590.1" y2="207.5"><stop offset="0.000" stop-color="#898989"/><stop offset="0.125" stop-color="#8f8f8f"/><stop offset="0.250" stop-color="#949494"/><stop offset="0.375" stop-color="#979797"/><stop offset="0.500" stop-color="#999999"/><stop offset="0.625" stop-color="#989898"/><stop offset="0.750" stop-color="#959595"/><stop offset="0.875" stop-color="#8f8f8f"/><stop offset="1.000" stop-color="#888888"/></linearGradient>
<linearGradient id="rg78" gradientUnits="userSpaceOnUse" x1="563.4" y1="228.2" x2="594.5" y2="213.7"><stop offset="0.000" stop-color="#8a8a8a"/><stop offset="0.125" stop-color="#8f8f8f"/><stop offset="0.250" stop-color="#949494"/><stop offset="0.375" stop-color="#979797"/><stop offset="0.500" stop-color="#989898"/><stop offset="0.625" stop-color="#979797"/><stop offset="0.750" stop-color="#949494"/><stop offset="0.875" stop-color="#8f8f8f"/><stop offset="1.000" stop-color="#888888"/></linearGradient>
<linearGradient id="rg79" gradientUnits="userSpaceOnUse" x1="564.8" y1="231.6" x2="598.2" y2="220.4"><stop offset="0.000" stop-color="#8b8b8b"/><stop offset="0.125" stop-color="#909090"/><stop offset="0.250" stop-color="#949494"/><stop offset="0.375" stop-color="#979797"/><stop offset="0.500" stop-color="#999999"/><stop offset="0.625" stop-color="#989898"/><stop offset="0.750" stop-color="#969696"/><stop offset="0.875" stop-color="#929292"/><stop offset="1.000" stop-color="#8c8c8c"/></linearGradient>
<linearGradient id="rg80" gradientUnits="userSpaceOnUse" x1="565.8" y1="234.9" x2="600.6" y2="227.7"><stop offset="0.000" stop-color="#8b8b8b"/><stop offset="0.125" stop-color="#919191"/><stop offset="0.250" stop-color="#959595"/><stop offset="0.375" stop-color="#989898"/><stop offset="0.500" stop-color="#999999"/><stop offset="0.625" stop-color="#999999"/><stop offset="0.750" stop-color="#989898"/><stop offset="0.875" stop-color="#959595"/><stop offset="1.000" stop-color="#929292"/></linearGradient>
<linearGradient id="rg81" gradientUnits="userSpaceOnUse" x1="566.4" y1="238.1" x2="602.1" y2="235.2"><stop offset="0.000" stop-color="#8c8c8c"/><stop offset="0.125" stop-color="#919191"/><stop offset="0.250" stop-color="#969696"/><stop offset="0.375" stop-color="#999999"/><stop offset="0.500" stop-color="#9a9a9a"/><stop offset="0.625" stop-color="#9a9a9a"/><stop offset="0.750" stop-color="#9a9a9a"/><stop offset="0.875" stop-color="#999999"/><stop offset="1.000" stop-color="#989898"/></linearGradient>
<linearGradient id="rg82" gradientUnits="userSpaceOnUse" x1="566.6" y1="241.4" x2="602.6" y2="243.0"><stop offset="0.000" stop-color="#8c8c8c"/><stop offset="0.125" stop-color="#929292"/><stop offset="0.250" stop-color="#969696"/><stop offset="0.375" stop-color="#999999"/><stop offset="0.500" stop-color="#9b9b9b"/><stop offset="0.625" stop-color="#9b9b9b"/><stop offset="0.750" stop-color="#9b9b9b"/><stop offset="0.875" stop-color="#9b9b9b"/><stop offset="1.000" stop-color="#9b9b9b"/></linearGradient>
<linearGradient id="rg83" gradientUnits="userSpaceOnUse" x1="566.3" y1="245.1" x2="601.9" y2="251.0"><stop offset="0.000" stop-color="#8c8c8c"/><stop offset="0.125" stop-color="#929292"/><stop offset="0.250" stop-color="#979797"/><stop offset="0.375" stop-color="#9a9a9a"/><stop offset="0.500" stop-color="#9b9b9b"/><stop offset="0.625" stop-color="#9b9b9b"/><stop offset="0.750" stop-color="#9c9c9c"/><stop offset="0.875" stop-color="#9d9d9d"/><stop offset="1.000" stop-color="#9e9e9e"/></linearGradient>
<linearGradient id="rg84" gradientUnits="userSpaceOnUse" x1="565.5" y1="248.8" x2="600.4" y2="258.8"><stop offset="0.000" stop-color="#8c8c8c"/><stop offset="0.125" stop-color="#929292"/><stop offset="0.250" stop-color="#979797"/><stop offset="0.375" stop-color="#9a9a9a"/><stop offset="0.500" stop-color="#9c9c9c"/><stop offset="0.625" stop-color="#9c9c9c"/><stop offset="0.750" stop-color="#9d9d9d"/><stop offset="0.875" stop-color="#9f9f9f"/><stop offset="1.000" stop-color="#a1a1a1"/></linearGradient>
<linearGradient id="rg85" gradientUnits="userSpaceOnUse" x1="564.3" y1="252.7" x2="597.9" y2="266.5"><stop offset="0.000" stop-color="#8c8c8c"/><stop offset="0.125" stop-color="#929292"/><stop offset="0.250" stop-color="#979797"/><stop offset="0.375" stop-color="#9b9b9b"/><stop offset="0.500" stop-color="#9c9c9c"/><stop offset="0.625" stop-color="#9c9c9c"/><stop offset="0.750" stop-color="#9e9e9e"/><stop offset="0.875" stop-color="#a0a0a0"/><stop offset="1.000" stop-color="#a2a2a2"/></linearGradient>
<linearGradient id="rg86" gradientUnits="userSpaceOnUse" x1="562.5" y1="256.8" x2="594.6" y2="273.9"><stop offset="0.000" stop-color="#8d8d8d"/><stop offset="0.125" stop-color="#939393"/><stop offset="0.250" stop-color="#979797"/><stop offset="0.375" stop-color="#9b9b9b"/><stop offset="0.500" stop-color="#9c9c9c"/><stop offset="0.625" stop-color="#9c9c9c"/><stop offset="0.750" stop-color="#9e9e9e"/><stop offset="0.875" stop-color="#a0a0a0"/><stop offset="1.000" stop-color="#a3a3a3"/></linearGradient>
<linearGradient id="rg87" gradientUnits="userSpaceOnUse" x1="560.1" y1="261.0" x2="590.5" y2="281.1"><stop offset="0.000" stop-color="#8d8d8d"/><stop offset="0.125" stop-color="#939393"/><stop offset="0.250" stop-color="#979797"/><stop offset="0.375" stop-color="#9b9b9b"/><stop offset="0.500" stop-color="#9c9c9c"/><stop offset="0.625" stop-color="#9c9c9c"/><stop offset="0.750" stop-color="#9e9e9e"/><stop offset="0.875" stop-color="#a0a0a0"/><stop offset="1.000" stop-color="#a4a4a4"/></linearGradient>
<linearGradient id="rg88" gradientUnits="userSpaceOnUse" x1="557.0" y1="265.3" x2="585.7" y2="288.0"><stop offset="0.000" stop-color="#8d8d8d"/><stop offset="0.125" stop-color="#939393"/><stop offset="0.250" stop-color="#979797"/><stop offset="0.375" stop-color="#9b9b9b"/><stop offset="0.500" stop-color="#9c9c9c"/><stop offset="0.625" stop-color="#9d9d9d"/><stop offset="0.750" stop-color="#9e9e9e"/><stop offset="0.875" stop-color="#a1a1a1"/><stop offset="1.000" stop-color="#a4a4a4"/></linearGradient>
<linearGradient id="rg89" gradientUnits="userSpaceOnUse" x1="553.4" y1="269.7" x2="580.2" y2="294.7"><stop offset="0.000" stop-color="#8e8e8e"/><stop offset="0.125" stop-color="#939393"/><stop offset="0.250" stop-color="#989898"/><stop offset="0.375" stop-color="#9b9b9b"/><stop offset="0.500" stop-color="#9c9c9c"/><stop offset="0.625" stop-color="#9d9d9d"/><stop offset="0.750" stop-color="#9e9e9e"/><stop offset="0.875" stop-color="#a1a1a1"/><stop offset="1.000" stop-color="#a5a5a5"/></linearGradient>
<linearGradient id="rg90" gradientUnits="userSpaceOnUse" x1="549.0" y1="274.2" x2="574.1" y2="301.1"><stop offset="0.000" stop-color="#8e8e8e"/><stop offset="0.125" stop-color="#939393"/><stop offset="0.250" stop-color="#989898"/><stop offset="0.375" stop-color="#9b9b9b"/><stop offset="0.500" stop-color="#9c9c9c"/><stop offset="0.625" stop-color="#9d9d9d"/><stop offset="0.750" stop-color="#9e9e9e"/><stop offset="0.875" stop-color="#a1a1a1"/><stop offset="1.000" stop-color="#a6a6a6"/></linearGradient>
<filter id="bl5" x="-20%" y="-20%" width="140%" height="140%"><feGaussianBlur stdDeviation="5"/></filter>
<filter id="bl3" x="-20%" y="-20%" width="140%" height="140%"><feGaussianBlur stdDeviation="3"/></filter>
<filter id="bl2" x="-20%" y="-20%" width="140%" height="140%"><feGaussianBlur stdDeviation="2"/></filter>
<linearGradient id="ringhl" gradientUnits="userSpaceOnUse" x1="60" y1="0" x2="605" y2="0"><stop offset="0" stop-color="#9a9a9a"/><stop offset="0.18" stop-color="#a6a6a6"/><stop offset="0.5" stop-color="#adadad"/><stop offset="0.85" stop-color="#a6a6a6"/><stop offset="1" stop-color="#9c9c9c"/></linearGradient>
<linearGradient id="cu" x1="0" y1="0" x2="0" y2="1"><stop offset="0" stop-color="#bf855a"/><stop offset="0.12" stop-color="#ca8f62"/><stop offset="0.35" stop-color="#cb8f61"/><stop offset="0.75" stop-color="#bd8155"/><stop offset="1" stop-color="#a56e47"/></linearGradient>
<linearGradient id="p1g" gradientUnits="userSpaceOnUse" x1="58" y1="263.5" x2="63.5" y2="297.5"><stop offset="0" stop-color="#9c9c9c"/><stop offset="0.12" stop-color="#a6a6a6"/><stop offset="0.4" stop-color="#adadad"/><stop offset="0.8" stop-color="#9c9c9c"/><stop offset="1" stop-color="#8b8b8b"/></linearGradient>
<linearGradient id="p3g" gradientUnits="userSpaceOnUse" x1="606" y1="186" x2="610" y2="220"><stop offset="0" stop-color="#a8a8a8"/><stop offset="0.12" stop-color="#b1b1b1"/><stop offset="0.42" stop-color="#b6b6b6"/><stop offset="0.8" stop-color="#a8a8a8"/><stop offset="1" stop-color="#9a9a9a"/></linearGradient>
<linearGradient id="p3sh" gradientUnits="userSpaceOnUse" x1="583" y1="0" x2="612" y2="0"><stop offset="0" stop-color="#777" stop-opacity="0.55"/><stop offset="1" stop-color="#777" stop-opacity="0"/></linearGradient>
<linearGradient id="p2g" gradientUnits="userSpaceOnUse" x1="211" y1="105" x2="252" y2="125"><stop offset="0" stop-color="#a3a3a3"/><stop offset="0.5" stop-color="#999999"/><stop offset="1" stop-color="#858585"/></linearGradient>
<clipPath id="flclip"><path d="M93.5,200 L93.5,256 C88,262 82.5,272 81,283 C80.4,288 80.6,292 81.5,296 L60,330 L60,400 L300,400 L300,200 Z"/></clipPath>
<marker id="ah" viewBox="-14 -7.5 15 15" refX="-1.2" refY="0" markerWidth="15" markerHeight="15" orient="auto-start-reverse" markerUnits="userSpaceOnUse"><path d="M0,0 Q-6,-2.7 -12.6,-6.5 L-7.6,0 L-12.6,6.5 Q-6,2.7 0,0 Z" fill="#000" stroke="#000" stroke-width="0.7" stroke-linejoin="round"/></marker>
<clipPath id="plotclip"><rect x="833.3" y="25.1" width="624.9" height="470.4"/></clipPath>
</defs>
<rect width="1470" height="571" fill="#fff"/>
<text transform="translate(0.3,31.6) scale(0.92,1.056)" font-size="41.5" font-weight="bold">a</text>
<text transform="translate(729.6,31.2) scale(1.045,1)" font-size="40.5" font-weight="bold">b</text>
<g id="panel-a">
<path d="M214.5,131 C209.3,123 209.3,108 219,103.6 C222,102.4 228,102.3 238,103 C243,105 248,112 252.5,121 L253,137 Z" fill="url(#p2g)"/>
<g stroke="#000" stroke-width="1.8" fill="#fff" stroke-linecap="round"><path d="M209.9,100.4 L214.7,106.6 M220.9,95.2 L225.8,101.2" fill="none"/><circle cx="208.6" cy="98.5" r="2.3" stroke-width="1.7"/><circle cx="219.5" cy="93.3" r="2.3" stroke-width="1.7"/></g>
<path d="M570,190.8 L629.6,183.2 L633.8,216.9 L588,222 Z" fill="url(#p3g)"/>
<path d="M570,190.8 L612,185.4 L612,219.4 L588,222 Z" fill="url(#p3sh)"/>
<ellipse cx="631.7" cy="200" rx="5.3" ry="17" transform="rotate(-7 631.7 200)" fill="#b7b7b7"/>
<g stroke="#000" stroke-width="1.9" fill="#fff" stroke-linecap="round"><path d="M636.2,190.1 L648,188.3 M638,205 L648,203.6" fill="none"/><circle cx="651.2" cy="188" r="3" stroke-width="1.6"/><circle cx="651.2" cy="203.3" r="3" stroke-width="1.6"/></g>
<g clip-path="url(#ringclip)">
<path d="M218.3,356.9 L200.5,352.5 L209.5,315.9 L225.9,319.8Z" fill="url(#rg0)"/>
<path d="M206.1,354.0 L188.8,349.1 L198.8,312.9 L214.7,317.2Z" fill="url(#rg1)"/>
<path d="M194.3,350.7 L177.5,345.5 L188.5,309.8 L203.8,314.4Z" fill="url(#rg2)"/>
<path d="M182.8,347.2 L166.4,342.1 L178.5,307.1 L193.3,311.3Z" fill="url(#rg3)"/>
<path d="M171.6,343.7 L155.7,338.4 L168.8,304.1 L183.2,308.4Z" fill="url(#rg4)"/>
<path d="M160.7,340.2 L145.4,334.5 L159.7,300.9 L173.3,305.5Z" fill="url(#rg5)"/>
<path d="M150.2,336.4 L135.5,330.4 L151.0,297.5 L163.9,302.4Z" fill="url(#rg6)"/>
<path d="M140.1,332.3 L126.1,326.0 L142.9,293.8 L155.0,299.1Z" fill="url(#rg7)"/>
<path d="M130.4,328.1 L117.2,321.1 L135.5,289.7 L146.6,295.6Z" fill="url(#rg8)"/>
<path d="M121.3,323.4 L108.9,316.0 L128.6,285.6 L138.9,291.7Z" fill="url(#rg9)"/>
<path d="M112.7,318.4 L101.1,310.6 L122.4,281.3 L131.8,287.6Z" fill="url(#rg10)"/>
<path d="M104.7,313.2 L93.8,305.0 L116.9,277.0 L125.3,283.4Z" fill="url(#rg11)"/>
<path d="M97.1,307.7 L87.0,299.2 L112.0,272.6 L119.4,279.1Z" fill="url(#rg12)"/>
<path d="M90.1,302.0 L80.8,293.1 L107.7,268.3 L114.2,274.7Z" fill="url(#rg13)"/>
<path d="M83.6,296.0 L75.2,286.8 L104.1,264.0 L109.6,270.3Z" fill="url(#rg14)"/>
<path d="M77.8,289.8 L70.3,280.1 L101.2,259.8 L105.7,266.0Z" fill="url(#rg15)"/>
<path d="M72.5,283.3 L66.0,273.1 L98.9,255.8 L102.5,261.8Z" fill="url(#rg16)"/>
<path d="M68.0,276.4 L62.6,265.8 L97.1,251.9 L99.9,257.7Z" fill="url(#rg17)"/>
<path d="M64.1,269.3 L59.9,258.3 L95.9,248.2 L97.9,253.7Z" fill="url(#rg18)"/>
<path d="M61.0,261.9 L58.1,250.5 L95.2,244.6 L96.4,249.9Z" fill="url(#rg19)"/>
<path d="M58.8,254.2 L57.2,242.6 L94.9,241.1 L95.5,246.3Z" fill="url(#rg20)"/>
<path d="M57.5,246.4 L57.4,234.8 L95.1,238.0 L95.0,242.8Z" fill="url(#rg21)"/>
<path d="M57.1,238.4 L58.7,227.1 L95.7,235.0 L94.9,239.4Z" fill="url(#rg22)"/>
<path d="M57.9,230.7 L60.8,219.7 L96.8,232.0 L95.4,236.4Z" fill="url(#rg23)"/>
<path d="M59.7,223.2 L63.9,212.5 L98.3,228.8 L96.2,233.4Z" fill="url(#rg24)"/>
<path d="M62.3,215.8 L67.7,205.6 L100.3,225.4 L97.5,230.3Z" fill="url(#rg25)"/>
<path d="M65.8,208.8 L72.3,199.1 L102.9,221.9 L99.3,227.0Z" fill="url(#rg26)"/>
<path d="M70.0,202.1 L77.5,192.9 L106.1,218.2 L101.6,223.5Z" fill="url(#rg27)"/>
<path d="M74.9,195.8 L83.3,186.9 L110.0,214.4 L104.5,219.9Z" fill="url(#rg28)"/>
<path d="M80.5,189.7 L89.7,181.3 L114.5,210.6 L108.1,216.2Z" fill="url(#rg29)"/>
<path d="M86.6,183.9 L96.7,175.9 L119.6,206.8 L112.3,212.4Z" fill="url(#rg30)"/>
<path d="M93.3,178.4 L104.2,170.8 L125.4,203.0 L117.1,208.6Z" fill="url(#rg31)"/>
<path d="M100.6,173.2 L112.2,165.9 L131.8,199.2 L122.6,204.7Z" fill="url(#rg32)"/>
<path d="M108.4,168.2 L120.8,161.3 L138.8,195.5 L128.7,200.9Z" fill="url(#rg33)"/>
<path d="M116.7,163.5 L129.8,156.9 L146.4,191.9 L135.4,197.2Z" fill="url(#rg34)"/>
<path d="M125.5,158.9 L139.3,152.7 L154.6,188.4 L142.8,193.5Z" fill="url(#rg35)"/>
<path d="M134.8,154.7 L149.2,148.7 L163.2,184.9 L150.7,190.0Z" fill="url(#rg36)"/>
<path d="M144.5,150.6 L159.5,144.8 L172.3,181.5 L159.1,186.6Z" fill="url(#rg37)"/>
<path d="M154.6,146.6 L170.3,141.2 L181.8,178.2 L167.9,183.1Z" fill="url(#rg38)"/>
<path d="M165.2,142.9 L181.4,137.8 L191.9,175.1 L177.3,179.7Z" fill="url(#rg39)"/>
<path d="M176.1,139.3 L192.9,134.6 L202.3,172.2 L187.1,176.5Z" fill="url(#rg40)"/>
<path d="M187.4,136.1 L204.7,131.7 L213.1,169.6 L197.3,173.6Z" fill="url(#rg41)"/>
<path d="M199.1,133.0 L216.9,129.0 L224.3,167.1 L208.0,170.8Z" fill="url(#rg42)"/>
<path d="M211.1,130.3 L229.3,126.7 L235.8,164.9 L219.0,168.2Z" fill="url(#rg43)"/>
<path d="M223.4,127.8 L242.0,124.5 L247.6,162.9 L230.4,165.9Z" fill="url(#rg44)"/>
<path d="M236.0,125.5 L255.0,122.7 L259.6,161.2 L242.0,163.8Z" fill="url(#rg45)"/>
<path d="M248.8,123.5 L268.1,121.1 L271.9,159.8 L254.0,162.0Z" fill="url(#rg46)"/>
<path d="M261.9,121.8 L281.3,119.9 L284.3,158.6 L266.1,160.4Z" fill="url(#rg47)"/>
<path d="M275.1,120.4 L294.7,118.9 L296.9,157.6 L278.5,159.1Z" fill="url(#rg48)"/>
<path d="M288.4,119.3 L308.2,118.2 L309.5,156.9 L291.0,158.0Z" fill="url(#rg49)"/>
<path d="M301.9,118.5 L321.8,117.7 L322.3,156.5 L303.6,157.2Z" fill="url(#rg50)"/>
<path d="M315.4,117.9 L335.4,117.6 L335.0,156.4 L316.3,156.7Z" fill="url(#rg51)"/>
<path d="M329.0,117.6 L348.9,117.8 L347.8,156.6 L329.0,156.4Z" fill="url(#rg52)"/>
<path d="M342.5,117.7 L362.4,118.3 L360.5,157.1 L341.8,156.5Z" fill="url(#rg53)"/>
<path d="M356.1,118.1 L375.9,119.1 L373.1,157.9 L354.5,156.8Z" fill="url(#rg54)"/>
<path d="M369.6,118.7 L389.2,120.2 L385.5,158.9 L367.1,157.5Z" fill="url(#rg55)"/>
<path d="M382.9,119.6 L402.4,121.5 L397.9,160.1 L379.7,158.4Z" fill="url(#rg56)"/>
<path d="M396.2,120.9 L415.4,123.2 L410.0,161.7 L392.1,159.5Z" fill="url(#rg57)"/>
<path d="M409.3,122.4 L428.2,125.1 L421.9,163.5 L404.3,160.9Z" fill="url(#rg58)"/>
<path d="M422.2,124.2 L440.7,127.3 L433.5,165.5 L416.3,162.6Z" fill="url(#rg59)"/>
<path d="M434.9,126.2 L453.0,129.7 L444.8,167.8 L428.0,164.5Z" fill="url(#rg60)"/>
<path d="M447.3,128.5 L465.0,132.4 L455.8,170.3 L439.5,166.7Z" fill="url(#rg61)"/>
<path d="M459.4,131.1 L476.7,135.4 L466.4,173.0 L450.7,169.1Z" fill="url(#rg62)"/>
<path d="M471.2,134.0 L488.0,138.6 L476.6,175.9 L461.4,171.7Z" fill="url(#rg63)"/>
<path d="M482.7,137.1 L498.9,142.1 L486.4,179.0 L471.8,174.5Z" fill="url(#rg64)"/>
<path d="M493.8,140.4 L509.4,145.8 L495.6,182.3 L481.8,177.5Z" fill="url(#rg65)"/>
<path d="M504.5,144.0 L519.5,149.8 L504.4,185.8 L491.3,180.7Z" fill="url(#rg66)"/>
<path d="M514.8,147.9 L529.1,154.0 L512.7,189.4 L500.4,184.1Z" fill="url(#rg67)"/>
<path d="M524.6,152.0 L538.3,158.5 L520.4,193.2 L508.9,187.7Z" fill="url(#rg68)"/>
<path d="M534.0,156.4 L546.4,164.2 L527.5,197.0 L516.8,191.4Z" fill="url(#rg69)"/>
<path d="M542.7,161.5 L553.9,170.2 L534.1,201.0 L524.2,195.2Z" fill="url(#rg70)"/>
<path d="M550.4,167.3 L560.8,176.2 L540.0,204.9 L531.1,199.1Z" fill="url(#rg71)"/>
<path d="M557.6,173.4 L567.4,181.9 L545.2,209.0 L537.3,203.1Z" fill="url(#rg72)"/>
<path d="M564.3,179.2 L573.4,187.9 L549.8,213.0 L542.8,207.1Z" fill="url(#rg73)"/>
<path d="M570.6,185.1 L579.2,193.6 L553.7,216.9 L547.7,211.1Z" fill="url(#rg74)"/>
<path d="M576.3,191.1 L584.9,199.1 L556.9,220.8 L551.9,215.1Z" fill="url(#rg75)"/>
<path d="M582.3,196.5 L590.0,205.1 L559.5,224.5 L555.5,219.0Z" fill="url(#rg76)"/>
<path d="M587.7,202.2 L594.7,211.3 L561.6,228.0 L558.4,222.7Z" fill="url(#rg77)"/>
<path d="M592.6,208.3 L598.7,218.1 L563.1,231.3 L560.7,226.3Z" fill="url(#rg78)"/>
<path d="M596.9,214.8 L601.5,225.4 L564.1,234.4 L562.4,229.7Z" fill="url(#rg79)"/>
<path d="M600.3,221.9 L603.3,233.1 L564.8,237.4 L563.7,232.9Z" fill="url(#rg80)"/>
<path d="M602.6,229.4 L604.1,240.9 L565.1,240.4 L564.6,236.0Z" fill="url(#rg81)"/>
<path d="M603.9,237.2 L603.7,249.1 L564.9,243.9 L565.0,239.0Z" fill="url(#rg82)"/>
<path d="M604.0,245.2 L602.3,257.1 L564.3,247.4 L565.1,242.2Z" fill="url(#rg83)"/>
<path d="M603.1,253.3 L600.0,265.0 L563.3,251.1 L564.7,245.7Z" fill="url(#rg84)"/>
<path d="M601.2,261.3 L596.9,272.7 L561.7,255.0 L563.8,249.4Z" fill="url(#rg85)"/>
<path d="M598.5,269.1 L592.9,280.0 L559.5,259.1 L562.5,253.2Z" fill="url(#rg86)"/>
<path d="M594.9,276.6 L588.2,287.1 L556.7,263.2 L560.6,257.1Z" fill="url(#rg87)"/>
<path d="M590.5,283.8 L582.8,294.0 L553.3,267.5 L558.1,261.3Z" fill="url(#rg88)"/>
<path d="M585.5,290.8 L576.8,300.5 L549.2,271.9 L555.0,265.5Z" fill="url(#rg89)"/>
<path d="M579.7,297.4 L570.1,306.7 L544.4,276.3 L551.2,269.8Z" fill="url(#rg90)"/>
<ellipse cx="589" cy="206" rx="9" ry="17" transform="rotate(-25 589 206)" fill="#6f6f6f" opacity="0.35" filter="url(#bl3)"/>
</g>
<path d="M27.7,268.4 L93,259.2 L96,275 L84,293 L33.6,302 Z" fill="url(#p1g)"/>
<ellipse cx="30.4" cy="285.2" rx="5.2" ry="17.2" transform="rotate(-10 30.4 285.2)" fill="#b9b9b9"/>
<g stroke="#000" stroke-width="1.9" fill="#fff" stroke-linecap="round"><path d="M8.4,281.2 L28.2,277.8 M9,295.2 L28.4,291.6" fill="none"/><circle cx="5.3" cy="281.7" r="3" stroke-width="1.6"/><circle cx="5.8" cy="295.7" r="3" stroke-width="1.6"/></g>
<g clip-path="url(#ringclip)"><g clip-path="url(#flclip)">
<path d="M218.3,356.9 L200.5,352.5 L209.5,315.9 L225.9,319.8Z" fill="url(#rg0)"/>
<path d="M206.1,354.0 L188.8,349.1 L198.8,312.9 L214.7,317.2Z" fill="url(#rg1)"/>
<path d="M194.3,350.7 L177.5,345.5 L188.5,309.8 L203.8,314.4Z" fill="url(#rg2)"/>
<path d="M182.8,347.2 L166.4,342.1 L178.5,307.1 L193.3,311.3Z" fill="url(#rg3)"/>
<path d="M171.6,343.7 L155.7,338.4 L168.8,304.1 L183.2,308.4Z" fill="url(#rg4)"/>
<path d="M160.7,340.2 L145.4,334.5 L159.7,300.9 L173.3,305.5Z" fill="url(#rg5)"/>
<path d="M150.2,336.4 L135.5,330.4 L151.0,297.5 L163.9,302.4Z" fill="url(#rg6)"/>
<path d="M140.1,332.3 L126.1,326.0 L142.9,293.8 L155.0,299.1Z" fill="url(#rg7)"/>
<path d="M130.4,328.1 L117.2,321.1 L135.5,289.7 L146.6,295.6Z" fill="url(#rg8)"/>
<path d="M121.3,323.4 L108.9,316.0 L128.6,285.6 L138.9,291.7Z" fill="url(#rg9)"/>
<path d="M112.7,318.4 L101.1,310.6 L122.4,281.3 L131.8,287.6Z" fill="url(#rg10)"/>
<path d="M104.7,313.2 L93.8,305.0 L116.9,277.0 L125.3,283.4Z" fill="url(#rg11)"/>
<path d="M97.1,307.7 L87.0,299.2 L112.0,272.6 L119.4,279.1Z" fill="url(#rg12)"/>
<path d="M90.1,302.0 L80.8,293.1 L107.7,268.3 L114.2,274.7Z" fill="url(#rg13)"/>
<path d="M83.6,296.0 L75.2,286.8 L104.1,264.0 L109.6,270.3Z" fill="url(#rg14)"/>
<path d="M77.8,289.8 L70.3,280.1 L101.2,259.8 L105.7,266.0Z" fill="url(#rg15)"/>
<path d="M72.5,283.3 L66.0,273.1 L98.9,255.8 L102.5,261.8Z" fill="url(#rg16)"/>
</g></g>
<ellipse cx="219.3" cy="337.3" rx="6.6" ry="17.5" transform="rotate(10.4 219.3 337.3)" fill="#8d8d8d"/>
<ellipse cx="558.6" cy="288.8" rx="15" ry="17.2" transform="rotate(-38 558.6 288.8)" fill="#b6b6b6"/>
<g fill="none" stroke="#a9a9a9" stroke-width="2.1" stroke-linecap="round" stroke-linejoin="round">
<path d="M250.8,307.7 L251.8,318.4 L265.4,316.8"/>
<path d="M250.8,366.4 L250.8,355.7 L264.8,353"/>
<path d="M271.4,303.8 L284,314.2 L292.4,313.4 L312,365.2"/>
<path d="M271.4,363.2 L284,350.6 L292.4,347.8 L312,290.4"/>
<path d="M530.8,264.8 L530.8,276 L517.4,277.4"/>
<path d="M531.4,322.2 L531.4,313.8 L517.4,313"/>
<path d="M511.8,267.6 L499.2,279.6 L492.2,283 L474,334.8"/>
<path d="M511.8,327.8 L499.2,316.6 L494,313 L477.4,277"/>
</g>
<g fill="#a9a9a9">
<circle cx="265.4" cy="316.8" r="2.5"/>
<circle cx="264.8" cy="353.0" r="2.5"/>
<circle cx="284.0" cy="314.2" r="2.5"/>
<circle cx="284.0" cy="350.6" r="2.5"/>
<circle cx="517.4" cy="277.4" r="2.5"/>
<circle cx="517.4" cy="313.0" r="2.5"/>
<circle cx="499.2" cy="279.6" r="2.5"/>
<circle cx="499.2" cy="316.6" r="2.5"/>
</g>
<g transform="translate(323.2,289.3) rotate(-7.71)">
<path d="M0,-12.4 L149.8,-12.4 A5.6,12.4 0 0 1 149.8,12.4 L0,12.4 Z" fill="url(#cu)"/>
<ellipse cx="0" cy="0" rx="5.6" ry="12.4" fill="#f3b98f"/>
</g>
<g transform="translate(320.4,364.5) rotate(-7.69)">
<path d="M0,-12.4 L150.2,-12.4 A5.6,12.4 0 0 1 150.2,12.4 L0,12.4 Z" fill="url(#cu)"/>
<ellipse cx="0" cy="0" rx="5.6" ry="12.4" fill="#f3b98f"/>
</g>
<g fill="none" stroke="#000" stroke-width="2.4" stroke-linecap="round" stroke-linejoin="round">
<path d="M219.4,329.6 L239.2,329.2 L240.2,311"/>
<path d="M242.2,308.6 L250.8,307.7 L250.8,300 L265,297.4"/>
<path d="M270.6,284 L282.6,295.2 L312,290.4 L322,289.6"/>
<path d="M219.4,346.6 L238.6,347.6 L240.2,365.8"/>
<path d="M242.2,367.4 L250.8,366.4 L251.2,373.4 L265,372.4"/>
<path d="M270,384.2 L282.6,369.4 L312,365.2 L320,364.6"/>
<path d="M477.4,264 L499.2,261.4 L511.8,247.2"/>
<path d="M517.4,257.8 L530,256.4 L530.8,264.8 L539.5,264.2"/>
<path d="M541.4,266 L541.2,287 Q551.5,285.6 560,278.2"/>
<path d="M474,339 L500,334.8 L511.8,345.2"/>
<path d="M517.4,332.9 L531.4,330.6 L531.4,322.2 L539.5,321.1"/>
<path d="M541.2,319 L541,305.6 Q551,302 561.2,295.7"/>
</g>
<g fill="#000">
<circle cx="250.8" cy="307.7" r="2.8"/>
<circle cx="265.0" cy="297.4" r="2.8"/>
<circle cx="282.6" cy="295.2" r="2.8"/>
<circle cx="312.0" cy="290.4" r="2.8"/>
<circle cx="250.8" cy="366.4" r="2.8"/>
<circle cx="265.0" cy="372.4" r="2.8"/>
<circle cx="282.6" cy="369.4" r="2.8"/>
<circle cx="312.0" cy="365.2" r="2.8"/>
<circle cx="499.2" cy="261.4" r="2.8"/>
<circle cx="517.4" cy="257.8" r="2.8"/>
<circle cx="530.8" cy="264.8" r="2.8"/>
<circle cx="500.0" cy="334.8" r="2.8"/>
<circle cx="517.4" cy="332.9" r="2.8"/>
<circle cx="531.4" cy="322.2" r="2.8"/>
</g>
<g fill="#fff" stroke="#000" stroke-width="1.5">
<circle cx="240.2" cy="309.0" r="2.0"/>
<circle cx="240.2" cy="367.8" r="2.0"/>
<circle cx="541.4" cy="264.0" r="2.0"/>
<circle cx="541.2" cy="320.9" r="2.0"/>
</g>
<g stroke="#000" stroke-width="2" stroke-dasharray="5,2.5" fill="none">
<path d="M252.6,96.6V133 M89.8,228V259 M574.4,158V192 M557.6,243.8V276.8 M221.2,289.4V320.3"/>
</g>
<g stroke="#000" stroke-width="2" fill="none" marker-start="url(#ah)" marker-end="url(#ah)">
<path d="M250.2,100.4 C246.3,100.9 235.8,101.6 226.6,103.2 C217.4,104.8 206.2,107.0 195.1,110.2 C184.0,113.4 170.2,118.5 160.0,122.5 C149.8,126.5 142.5,129.5 133.8,134.0 C125.1,138.5 115.3,143.9 107.6,149.5 C99.9,155.1 92.5,161.6 87.8,167.5 C83.1,173.4 80.8,179.2 79.2,185.0 C77.6,190.8 77.7,197.2 78.2,202.5 C78.7,207.8 80.9,212.6 82.4,216.5 C83.9,220.4 86.4,224.2 87.2,225.8"/>
<path d="M256.7,98.6 C261.0,98.2 272.8,96.8 282.6,96.1 C292.4,95.4 306.2,94.8 315.3,94.5 C324.4,94.2 329.8,94.2 337.0,94.3 C344.2,94.3 351.5,94.5 358.8,94.8 C366.1,95.1 373.7,95.5 380.6,96.1 C387.5,96.7 392.1,97.2 400.0,98.2 C407.9,99.2 418.7,100.7 428.0,102.4 C437.3,104.2 446.7,106.4 456.0,108.7 C465.3,111.0 474.7,113.5 484.0,116.4 C493.3,119.3 502.7,122.5 512.0,126.2 C521.3,129.9 533.0,135.4 540.0,138.8 C547.0,142.2 548.9,143.2 554.0,146.5 C559.1,149.8 567.7,156.5 570.4,158.5"/>
<path d="M577.2,168.6 C598,199 592,232 561.2,247.3"/>
<path d="M94,235.9 C117,263 170,286 216.8,291.8"/>
</g>
<g fill="none" stroke-width="2.1" stroke-linecap="butt" stroke-linejoin="miter">
<path d="M373,241 L429,233 M424.2,230.0 L429.8,232.9 L425.2,237.2" stroke="#ea2227"/>
<path d="M431.6,244.8 L375,252.8 M378.8,248.6 L374.2,252.9 L379.8,255.8" stroke="#2424e0"/>
</g>
<text transform="translate(178.2,86.9) rotate(-10.0) skewX(-4.0)" font-size="24.8" font-style="italic" fill="#000" text-anchor="start">Port 2</text>
<text transform="translate(10.0,338.2) rotate(-10.5) skewX(-4.0)" font-size="24.8" font-style="italic" fill="#000" text-anchor="start">Port 1</text>
<text transform="translate(620.6,250.2) rotate(-10.0) skewX(-4.0)" font-size="24.8" font-style="italic" fill="#000" text-anchor="start">Port 3</text>
<text transform="translate(104.5,131.0) rotate(-20.0)" font-size="24.5" font-style="italic" fill="#000" text-anchor="start"><tspan font-family="Liberation Serif, serif" font-style="normal" font-size="23.3">λ</tspan><tspan font-size="19.1" dy="7.6" dx="0.5" font-style="italic">0</tspan><tspan dy="-7.6" dx="2.5" font-style="normal">/4</tspan></text>
<text transform="translate(437.2,86.2) rotate(5.5)" font-size="24.5" font-style="italic" fill="#000" text-anchor="start"><tspan font-family="Liberation Serif, serif" font-style="normal" font-size="23.3">λ</tspan><tspan font-size="19.1" dy="7.6" dx="0.5" font-style="normal">0</tspan><tspan dy="-7.6" dx="2.5" font-style="normal">/4</tspan></text>
<text transform="translate(136.5,252.5) rotate(13.0)" font-size="24.5" font-style="italic" fill="#000" text-anchor="start"><tspan font-family="Liberation Serif, serif" font-style="normal" font-size="23.3">λ</tspan><tspan font-size="19.1" dy="7.6" dx="0.5" font-style="italic">0</tspan><tspan dy="-7.6" dx="2.5" font-style="normal">/8</tspan></text>
<text transform="translate(582.8,270.5) rotate(-66.0)" font-size="15.8" font-style="italic" fill="#000" text-anchor="start"><tspan font-family="Liberation Serif, serif" font-style="normal" font-size="15.0">λ</tspan><tspan font-size="12.3" dy="4.9" dx="0.3" font-style="italic">0</tspan><tspan dy="-4.9" dx="1.6" font-style="normal">/8</tspan></text>
<text transform="translate(367.8,232.0) rotate(-8.0) skewX(-9.0)" font-size="18.2" font-style="italic" fill="#000" text-anchor="start">Gyrator</text>
<text transform="translate(434.4,236.3) rotate(-8.0) skewX(-6.0)" font-size="16.6" font-style="italic" fill="#ea2227" text-anchor="start">+π/2</text>
<text transform="translate(334.3,262.6) rotate(-8.0) skewX(-6.0)" font-size="16.6" font-style="italic" fill="#2424e0" text-anchor="start">−π/2</text>
<text transform="translate(234.0,284.5) rotate(-11.0)" font-size="15.9" font-style="normal" fill="#000" text-anchor="start">Clock-1</text>
<text transform="translate(240.0,344.5) rotate(-11.0)" font-size="15.9" font-style="normal" fill="#000" text-anchor="start">Clock-2</text>
<text transform="translate(254.5,404.5) rotate(-11.0)" font-size="15.9" font-style="normal" fill="#000" text-anchor="start">Clock-1</text>
<text transform="translate(487.0,244.0) rotate(-11.0)" font-size="15.9" font-style="normal" fill="#1da1e0" text-anchor="start">Clock-3</text>
<text transform="translate(489.0,308.5) rotate(-11.0)" font-size="15.9" font-style="normal" fill="#1da1e0" text-anchor="start">Clock-4</text>
<text transform="translate(497.0,367.0) rotate(-11.0)" font-size="15.9" font-style="normal" fill="#1da1e0" text-anchor="start">Clock-3</text>
<g fill="none" stroke-width="2.5" stroke-linejoin="miter">
<path d="M404.5,465.6 H433.0 V434.2 H460.6 V465.6 H488.9 V434.2 H516.9 V465.6 H545.2" stroke="#1da1e0"/>
<path d="M404.5,473.4 H433.0 V503.6 H460.6 V473.4 H488.9 V503.6 H516.9 V473.4 H545.2" stroke="#1da1e0"/>
<path d="M390.9,465.6 H419.4 V434.2 H447.0 V465.6 H475.3 V434.2 H503.3 V465.6 H531.6" stroke="#000"/>
<path d="M390.9,473.4 H419.4 V503.6 H447.0 V473.4 H475.3 V503.6 H503.3 V473.4 H531.6" stroke="#000"/>
</g>
<path d="M433,467V517 M447,467V517" stroke="#000" stroke-width="1" stroke-dasharray="2.4,1.8" fill="none"/>
<path d="M431.5,520.7H449.3 M434.5,518.2L431.3,520.7L434.5,523.2 M446.3,518.2L449.5,520.7L446.3,523.2" stroke="#000" stroke-width="1" fill="none"/>
<g font-size="18.7">
<text x="325" y="446.2">Clock-1</text>
<text x="325" y="463.9" fill="#1da1e0">Clock-3</text>
<text x="325" y="488.2">Clock-2</text>
<text x="325" y="504.8" fill="#1da1e0">Clock-4</text>
<text x="433.5" y="420.7" font-size="17.8"><tspan font-style="italic">T</tspan><tspan font-size="76%" dy="5.4">s</tspan><tspan dy="-5.4">=1/</tspan><tspan font-style="italic">f</tspan><tspan font-size="76%" dy="5.4">s</tspan></text>
<text x="455" y="524.4" font-size="17.8"><tspan font-style="italic">T</tspan><tspan font-size="76%" dy="5.4">s</tspan><tspan dy="-5.4">/4</tspan></text>
</g>
</g>
<g id="panel-b">
<g stroke="#404040" stroke-width="1.3" fill="none">
<rect x="834.3" y="27.1" width="622.9" height="466.4"/>
<path d="M938.1,27.1v6.3 M938.1,493.5v-6.3 M1041.9,27.1v6.3 M1041.9,493.5v-6.3 M1145.8,27.1v6.3 M1145.8,493.5v-6.3 M1249.6,27.1v6.3 M1249.6,493.5v-6.3 M1353.4,27.1v6.3 M1353.4,493.5v-6.3 M834.3,85.4h6.3 M1457.2,85.4h-6.3 M834.3,143.7h6.3 M1457.2,143.7h-6.3 M834.3,202.0h6.3 M1457.2,202.0h-6.3 M834.3,260.3h6.3 M1457.2,260.3h-6.3 M834.3,318.6h6.3 M1457.2,318.6h-6.3 M834.3,376.9h6.3 M1457.2,376.9h-6.3 M834.3,435.2h6.3 M1457.2,435.2h-6.3"/>
</g>
<path d="M834.3,70.0 L836.9,69.9 L839.5,69.7 L842.1,69.6 L844.7,69.5 L847.3,69.4 L849.9,69.3 L852.5,69.2 L855.1,69.1 L857.7,69.0 L860.3,68.9 L862.8,68.8 L865.4,68.7 L868.0,68.7 L870.6,68.6 L873.2,68.5 L875.8,68.5 L878.4,68.4 L881.0,68.4 L883.6,68.3 L886.2,68.3 L888.8,68.3 L891.4,68.3 L894.0,68.3 L896.6,68.3 L899.2,68.3 L901.8,68.4 L904.4,68.4 L907.0,68.5 L909.6,68.6 L912.2,68.7 L914.8,68.8 L917.4,68.9 L919.9,69.0 L922.5,69.1 L925.1,69.2 L927.7,69.4 L930.3,69.5 L932.9,69.7 L935.5,69.8 L938.1,70.0 L940.7,70.2 L943.3,70.4 L945.9,70.6 L948.5,70.8 L951.1,71.1 L953.7,71.3 L956.3,71.6 L958.9,71.9 L961.5,72.2 L964.1,72.5 L966.7,72.8 L969.3,73.1 L971.9,73.5 L974.5,73.8 L977.0,74.2 L979.6,74.6 L982.2,75.0 L984.8,75.4 L987.4,75.9 L990.0,76.3 L992.6,76.8 L995.2,77.2 L997.8,77.7 L1000.4,78.1 L1003.0,78.6 L1005.6,79.1 L1008.2,79.6 L1010.8,80.2 L1013.4,80.8 L1016.0,81.5 L1018.6,82.3 L1021.2,83.1 L1023.8,83.9 L1026.4,84.9 L1029.0,85.8 L1031.6,86.8 L1034.1,87.8 L1036.7,88.9 L1039.3,90.0 L1041.9,91.1 L1044.5,92.3 L1047.1,93.5 L1049.7,94.7 L1052.3,95.9 L1054.9,97.1 L1057.5,98.3 L1060.1,99.6 L1062.7,100.9 L1065.3,102.2 L1067.9,103.5 L1070.5,105.0 L1073.1,106.5 L1075.7,108.0 L1078.3,109.7 L1080.9,111.5 L1083.5,113.4 L1086.1,115.4 L1088.7,117.5 L1091.2,119.7 L1093.8,122.0 L1096.4,124.5 L1099.0,127.1 L1101.6,129.9 L1104.2,132.9 L1106.8,136.1 L1109.4,139.5 L1112.0,143.2 L1114.6,147.2 L1117.2,151.6 L1119.7,156.3 L1119.8,156.4 L1122.4,161.7 L1122.4,161.8 L1124.8,167.3 L1125.0,167.7 L1127.0,172.7 L1127.6,174.4 L1128.9,178.2 L1130.2,182.2 L1130.6,183.7 L1132.2,189.2 L1132.8,191.4 L1133.6,194.6 L1134.8,200.1 L1135.4,202.6 L1136.0,205.5 L1137.0,211.0 L1137.9,216.4 L1138.0,216.9 L1138.7,221.8 L1139.4,227.1 L1140.1,232.5 L1140.6,236.9 L1140.7,237.8 L1141.2,243.0 L1141.6,248.2 L1142.1,253.4 L1142.4,258.4 L1142.8,263.3 L1143.1,268.2 L1143.2,269.2 L1143.4,272.8 L1143.6,277.3 L1143.8,281.7 L1144.0,285.8 L1144.2,289.7 L1144.4,293.3 L1144.5,296.6 L1144.6,299.7 L1144.8,302.4 L1144.9,304.9 L1144.9,307.0 L1145.0,308.9 L1145.1,310.5 L1145.2,311.9 L1145.2,313.1 L1145.3,314.1 L1145.3,314.9 L1145.4,315.6 L1145.4,316.1 L1145.4,316.6 L1145.5,317.0 L1145.5,317.3 L1145.5,317.5 L1145.6,317.7 L1145.6,317.9 L1145.6,318.0 L1145.6,318.2 L1145.6,318.2 L1145.6,318.3 L1145.6,318.4 L1145.7,318.4 L1145.7,318.4 L1145.7,318.5 L1145.7,318.5 L1145.7,318.5 L1145.7,318.5 L1145.7,318.5 L1145.7,318.6 L1145.7,318.6 L1145.7,318.6 L1145.7,318.6 L1145.7,318.6 L1145.7,318.6 L1145.7,318.6 L1145.7,318.6 L1145.7,318.6 L1145.7,318.6 L1145.7,318.6 L1145.7,318.6 L1145.7,318.6 L1145.7,318.6 L1145.7,318.6 L1145.7,318.6 L1145.7,318.6 L1145.7,318.6 L1145.7,318.6 L1145.7,318.6 L1145.7,318.6 L1145.7,318.6 L1145.7,318.6 L1145.7,318.6 L1145.7,318.6 L1145.7,318.6 L1145.7,318.6 L1145.7,318.6 L1145.7,318.6 L1145.7,318.6 L1145.7,318.6 L1145.8,318.6 L1145.8,318.6 L1145.8,318.6 L1145.8,318.6 L1145.8,318.6 L1145.8,318.6 L1145.8,318.6 L1145.8,318.6 L1145.8,318.6 L1145.8,318.6 L1145.8,318.6 L1145.8,318.6 L1145.8,318.6 L1145.8,318.6 L1145.8,318.6 L1145.8,318.6 L1145.8,318.6 L1145.8,318.6 L1145.8,318.6 L1145.8,318.6 L1145.8,318.6 L1145.8,318.6 L1145.8,318.6 L1145.8,318.6 L1145.8,318.6 L1145.8,318.6 L1145.8,318.6 L1145.8,318.6 L1145.8,318.6 L1145.8,318.6 L1145.8,318.6 L1145.8,318.6 L1145.8,318.5 L1145.8,318.5 L1145.8,318.5 L1145.8,318.5 L1145.8,318.5 L1145.8,318.4 L1145.8,318.4 L1145.9,318.4 L1145.9,318.3 L1145.9,318.2 L1145.9,318.2 L1145.9,318.0 L1145.9,317.9 L1145.9,317.7 L1146.0,317.5 L1146.0,317.3 L1146.0,317.0 L1146.1,316.6 L1146.1,316.1 L1146.1,315.6 L1146.2,314.9 L1146.2,314.1 L1146.3,313.1 L1146.3,311.9 L1146.4,310.5 L1146.5,308.9 L1146.6,307.0 L1146.6,304.9 L1146.7,302.4 L1146.9,299.7 L1147.0,296.6 L1147.1,293.3 L1147.3,289.7 L1147.5,285.8 L1147.7,281.7 L1147.9,277.3 L1148.1,272.8 L1148.3,269.2 L1148.4,268.2 L1148.7,263.3 L1149.1,258.4 L1149.4,253.4 L1149.9,248.2 L1150.3,243.0 L1150.8,237.8 L1150.9,236.9 L1151.4,232.5 L1152.1,227.1 L1152.8,221.8 L1153.5,216.9 L1153.6,216.4 L1154.5,211.0 L1155.5,205.5 L1156.1,202.6 L1156.7,200.1 L1157.9,194.6 L1158.7,191.4 L1159.3,189.2 L1160.9,183.7 L1161.3,182.2 L1162.6,178.2 L1163.9,174.4 L1164.5,172.7 L1166.5,167.7 L1166.7,167.3 L1169.1,161.8 L1169.1,161.7 L1171.7,156.4 L1171.8,156.3 L1174.3,151.6 L1176.9,147.2 L1179.5,143.2 L1182.1,139.5 L1184.7,136.1 L1187.3,132.9 L1189.9,129.9 L1192.5,127.1 L1195.1,124.5 L1197.7,122.0 L1200.3,119.7 L1202.8,117.5 L1205.4,115.4 L1208.0,113.4 L1210.6,111.5 L1213.2,109.7 L1215.8,108.0 L1218.4,106.5 L1221.0,105.0 L1223.6,103.5 L1226.2,102.2 L1228.8,100.9 L1231.4,99.6 L1234.0,98.3 L1236.6,97.1 L1239.2,95.9 L1241.8,94.7 L1244.4,93.5 L1247.0,92.3 L1249.6,91.1 L1252.2,90.0 L1254.8,88.9 L1257.4,87.8 L1259.9,86.8 L1262.5,85.8 L1265.1,84.9 L1267.7,83.9 L1270.3,83.1 L1272.9,82.3 L1275.5,81.5 L1278.1,80.8 L1280.7,80.2 L1283.3,79.6 L1285.9,79.1 L1288.5,78.6 L1291.1,78.1 L1293.7,77.7 L1296.3,77.2 L1298.9,76.8 L1301.5,76.3 L1304.1,75.9 L1306.7,75.4 L1309.3,75.0 L1311.9,74.6 L1314.5,74.2 L1317.0,73.8 L1319.6,73.5 L1322.2,73.1 L1324.8,72.8 L1327.4,72.5 L1330.0,72.2 L1332.6,71.9 L1335.2,71.6 L1337.8,71.3 L1340.4,71.1 L1343.0,70.8 L1345.6,70.6 L1348.2,70.4 L1350.8,70.2 L1353.4,70.0 L1356.0,69.8 L1358.6,69.7 L1361.2,69.5 L1363.8,69.4 L1366.4,69.2 L1369.0,69.1 L1371.6,69.0 L1374.1,68.9 L1376.7,68.8 L1379.3,68.7 L1381.9,68.6 L1384.5,68.5 L1387.1,68.4 L1389.7,68.4 L1392.3,68.3 L1394.9,68.3 L1397.5,68.3 L1400.1,68.3 L1402.7,68.3 L1405.3,68.3 L1407.9,68.3 L1410.5,68.4 L1413.1,68.4 L1415.7,68.5 L1418.3,68.5 L1420.9,68.6 L1423.5,68.7 L1426.1,68.7 L1428.7,68.8 L1431.2,68.9 L1433.8,69.0 L1436.4,69.1 L1439.0,69.2 L1441.6,69.3 L1444.2,69.4 L1446.8,69.5 L1449.4,69.6 L1452.0,69.7 L1454.6,69.9 L1457.2,70.0" fill="none" stroke="#000000" stroke-width="2.4" stroke-linejoin="round" clip-path="url(#plotclip)"/>
<path d="M834.3,111.6 L836.9,112.3 L839.5,112.9 L842.1,113.6 L844.7,114.2 L847.3,114.8 L849.9,115.3 L852.5,115.9 L855.1,116.4 L857.7,116.9 L860.3,117.5 L862.8,118.0 L865.4,118.4 L868.0,118.9 L870.6,119.4 L873.2,119.8 L875.8,120.2 L878.4,120.6 L881.0,120.9 L883.6,121.3 L886.2,121.6 L888.8,121.9 L891.4,122.2 L894.0,122.5 L896.6,122.8 L899.2,123.1 L901.8,123.4 L904.4,123.5 L907.0,123.7 L909.6,123.9 L912.2,124.0 L914.8,124.1 L917.4,124.3 L919.9,124.4 L922.5,124.6 L925.1,124.7 L927.7,124.8 L930.3,125.0 L932.9,125.1 L935.5,125.2 L938.1,125.3 L940.7,125.5 L943.3,125.6 L945.9,125.8 L948.5,125.9 L951.1,126.1 L953.7,126.2 L956.3,126.4 L958.9,126.6 L961.5,126.8 L964.1,127.0 L966.7,127.2 L969.3,127.5 L971.9,127.7 L974.5,128.0 L977.0,128.2 L979.6,128.5 L982.2,128.8 L984.8,129.1 L987.4,129.5 L990.0,129.9 L992.6,130.2 L995.2,130.7 L997.8,131.1 L1000.4,131.5 L1003.0,132.0 L1005.6,132.5 L1008.2,133.0 L1010.8,133.5 L1013.4,134.1 L1016.0,134.7 L1018.6,135.2 L1021.2,135.9 L1023.8,136.5 L1026.4,137.1 L1029.0,137.8 L1031.6,138.5 L1034.1,139.3 L1036.7,140.0 L1039.3,140.8 L1041.9,141.6 L1044.5,142.5 L1047.1,143.4 L1049.7,144.3 L1052.3,145.3 L1054.9,146.3 L1057.5,147.3 L1060.1,148.4 L1062.7,149.5 L1065.3,150.7 L1067.9,151.8 L1070.5,152.9 L1073.1,154.1 L1075.7,155.4 L1078.3,156.8 L1080.9,158.3 L1083.5,160.1 L1086.1,162.1 L1088.7,164.3 L1091.2,166.7 L1093.8,169.1 L1096.4,171.7 L1099.0,174.5 L1101.6,177.4 L1104.2,180.5 L1106.8,183.8 L1109.4,187.3 L1112.0,191.2 L1114.6,195.3 L1117.2,199.7 L1119.7,204.4 L1119.8,204.5 L1122.4,209.9 L1122.4,209.9 L1124.8,215.4 L1125.0,215.8 L1127.0,220.9 L1127.6,222.6 L1128.9,226.4 L1130.2,230.4 L1130.6,231.9 L1132.2,237.4 L1132.8,239.6 L1133.6,242.9 L1134.8,248.4 L1135.4,250.9 L1136.0,253.9 L1137.0,259.4 L1137.9,264.9 L1138.0,265.5 L1138.7,270.4 L1139.4,275.9 L1140.1,281.4 L1140.6,286.0 L1140.7,286.9 L1141.2,292.4 L1141.6,297.9 L1142.1,303.4 L1142.4,308.9 L1142.8,314.4 L1143.1,319.9 L1143.2,321.1 L1143.4,325.4 L1143.6,330.9 L1143.8,336.4 L1144.0,341.9 L1144.2,347.3 L1144.4,352.8 L1144.5,358.3 L1144.6,363.7 L1144.8,369.2 L1144.9,374.6 L1144.9,380.0 L1145.0,385.4 L1145.1,390.8 L1145.2,396.1 L1145.2,401.4 L1145.3,406.7 L1145.3,411.9 L1145.4,417.0 L1145.4,422.0 L1145.4,426.9 L1145.5,431.7 L1145.5,436.4 L1145.5,440.9 L1145.6,445.2 L1145.6,449.3 L1145.6,453.2 L1145.6,456.8 L1145.6,460.1 L1145.6,463.1 L1145.6,465.8 L1145.7,468.3 L1145.7,470.4 L1145.7,472.3 L1145.7,473.9 L1145.7,475.2 L1145.7,476.4 L1145.7,477.4 L1145.7,478.2 L1145.7,478.9 L1145.7,479.4 L1145.7,479.9 L1145.7,480.2 L1145.7,480.5 L1145.7,480.8 L1145.7,481.0 L1145.7,481.2 L1145.7,481.3 L1145.7,481.4 L1145.7,481.5 L1145.7,481.6 L1145.7,481.6 L1145.7,481.7 L1145.7,481.7 L1145.7,481.7 L1145.7,481.7 L1145.7,481.8 L1145.7,481.8 L1145.7,481.8 L1145.7,481.8 L1145.7,481.8 L1145.7,481.8 L1145.7,481.8 L1145.7,481.8 L1145.7,481.8 L1145.7,481.8 L1145.7,481.8 L1145.7,481.8 L1145.7,481.8 L1145.8,481.8 L1145.8,481.8 L1145.8,481.8 L1145.8,481.8 L1145.8,481.8 L1145.8,481.8 L1145.8,481.8 L1145.8,481.8 L1145.8,481.8 L1145.8,481.8 L1145.8,481.8 L1145.8,481.8 L1145.8,481.8 L1145.8,481.8 L1145.8,481.7 L1145.8,481.7 L1145.8,481.7 L1145.8,481.7 L1145.8,481.6 L1145.8,481.6 L1145.8,481.5 L1145.8,481.4 L1145.8,481.3 L1145.8,481.2 L1145.8,481.0 L1145.8,480.8 L1145.8,480.5 L1145.8,480.2 L1145.8,479.9 L1145.8,479.4 L1145.8,478.9 L1145.8,478.2 L1145.8,477.4 L1145.8,476.4 L1145.8,475.2 L1145.8,473.9 L1145.8,472.3 L1145.8,470.4 L1145.8,468.3 L1145.9,465.8 L1145.9,463.1 L1145.9,460.1 L1145.9,456.8 L1145.9,453.2 L1145.9,449.3 L1145.9,445.2 L1146.0,440.9 L1146.0,436.4 L1146.0,431.7 L1146.1,426.9 L1146.1,422.0 L1146.1,417.0 L1146.2,411.9 L1146.2,406.7 L1146.3,401.4 L1146.3,396.1 L1146.4,390.8 L1146.5,385.4 L1146.6,380.0 L1146.6,374.6 L1146.7,369.2 L1146.9,363.7 L1147.0,358.3 L1147.1,352.8 L1147.3,347.3 L1147.5,341.9 L1147.7,336.4 L1147.9,330.9 L1148.1,325.4 L1148.3,321.1 L1148.4,319.9 L1148.7,314.4 L1149.1,308.9 L1149.4,303.4 L1149.9,297.9 L1150.3,292.4 L1150.8,286.9 L1150.9,286.0 L1151.4,281.4 L1152.1,275.9 L1152.8,270.4 L1153.5,265.5 L1153.6,264.9 L1154.5,259.4 L1155.5,253.9 L1156.1,250.9 L1156.7,248.4 L1157.9,242.9 L1158.7,239.6 L1159.3,237.4 L1160.9,231.9 L1161.3,230.4 L1162.6,226.4 L1163.9,222.6 L1164.5,220.9 L1166.5,215.8 L1166.7,215.4 L1169.1,209.9 L1169.1,209.9 L1171.7,204.5 L1171.8,204.4 L1174.3,199.7 L1176.9,195.3 L1179.5,191.2 L1182.1,187.3 L1184.7,183.8 L1187.3,180.5 L1189.9,177.4 L1192.5,174.5 L1195.1,171.7 L1197.7,169.1 L1200.3,166.7 L1202.8,164.3 L1205.4,162.1 L1208.0,160.1 L1210.6,158.3 L1213.2,156.8 L1215.8,155.4 L1218.4,154.1 L1221.0,152.9 L1223.6,151.8 L1226.2,150.7 L1228.8,149.5 L1231.4,148.4 L1234.0,147.3 L1236.6,146.3 L1239.2,145.3 L1241.8,144.3 L1244.4,143.4 L1247.0,142.5 L1249.6,141.6 L1252.2,140.8 L1254.8,140.0 L1257.4,139.3 L1259.9,138.5 L1262.5,137.8 L1265.1,137.1 L1267.7,136.5 L1270.3,135.9 L1272.9,135.2 L1275.5,134.7 L1278.1,134.1 L1280.7,133.5 L1283.3,133.0 L1285.9,132.5 L1288.5,132.0 L1291.1,131.5 L1293.7,131.1 L1296.3,130.7 L1298.9,130.2 L1301.5,129.9 L1304.1,129.5 L1306.7,129.1 L1309.3,128.8 L1311.9,128.5 L1314.5,128.2 L1317.0,128.0 L1319.6,127.7 L1322.2,127.5 L1324.8,127.2 L1327.4,127.0 L1330.0,126.8 L1332.6,126.6 L1335.2,126.4 L1337.8,126.2 L1340.4,126.1 L1343.0,125.9 L1345.6,125.8 L1348.2,125.6 L1350.8,125.5 L1353.4,125.3 L1356.0,125.2 L1358.6,125.1 L1361.2,125.0 L1363.8,124.8 L1366.4,124.7 L1369.0,124.6 L1371.6,124.4 L1374.1,124.3 L1376.7,124.1 L1379.3,124.0 L1381.9,123.9 L1384.5,123.7 L1387.1,123.5 L1389.7,123.4 L1392.3,123.1 L1394.9,122.8 L1397.5,122.5 L1400.1,122.2 L1402.7,121.9 L1405.3,121.6 L1407.9,121.3 L1410.5,120.9 L1413.1,120.6 L1415.7,120.2 L1418.3,119.8 L1420.9,119.4 L1423.5,118.9 L1426.1,118.4 L1428.7,118.0 L1431.2,117.5 L1433.8,116.9 L1436.4,116.4 L1439.0,115.9 L1441.6,115.3 L1444.2,114.8 L1446.8,114.2 L1449.4,113.6 L1452.0,112.9 L1454.6,112.3 L1457.2,111.6" fill="none" stroke="#8c8c8c" stroke-width="2.4" stroke-linejoin="round" clip-path="url(#plotclip)"/>
<circle cx="1456.2" cy="70.0" r="3.6" fill="#000000"/>
<circle cx="1425.0" cy="68.7" r="3.6" fill="#000000"/>
<circle cx="1393.9" cy="68.3" r="3.6" fill="#000000"/>
<circle cx="1362.7" cy="69.4" r="3.6" fill="#000000"/>
<circle cx="1331.6" cy="72.0" r="3.6" fill="#000000"/>
<circle cx="1300.4" cy="76.5" r="3.6" fill="#000000"/>
<circle cx="1269.3" cy="83.4" r="3.6" fill="#000000"/>
<circle cx="1238.1" cy="96.4" r="3.6" fill="#000000"/>
<circle cx="1207.0" cy="114.2" r="3.6" fill="#000000"/>
<circle cx="1175.9" cy="148.9" r="3.6" fill="#000000"/>
<circle cx="1144.7" cy="301.5" r="3.6" fill="#000000"/>
<circle cx="1113.6" cy="145.5" r="3.6" fill="#000000"/>
<circle cx="1082.4" cy="112.6" r="3.6" fill="#000000"/>
<circle cx="1051.3" cy="95.4" r="3.6" fill="#000000"/>
<circle cx="1020.1" cy="82.7" r="3.6" fill="#000000"/>
<circle cx="989.0" cy="76.1" r="3.6" fill="#000000"/>
<circle cx="957.8" cy="71.8" r="3.6" fill="#000000"/>
<circle cx="926.7" cy="69.3" r="3.6" fill="#000000"/>
<circle cx="895.6" cy="68.3" r="3.6" fill="#000000"/>
<circle cx="864.4" cy="68.8" r="3.6" fill="#000000"/>
<path d="M834.3,47.3 L836.9,47.7 L839.5,48.1 L842.1,48.5 L844.7,48.9 L847.3,49.2 L849.9,49.6 L852.5,49.9 L855.1,50.3 L857.7,50.6 L860.3,50.9 L862.8,51.2 L865.4,51.6 L868.0,51.9 L870.6,52.2 L873.2,52.4 L875.8,52.6 L878.4,52.8 L881.0,53.0 L883.6,53.2 L886.2,53.4 L888.8,53.6 L891.4,53.9 L894.0,54.2 L896.6,54.5 L899.2,54.9 L901.8,55.3 L904.4,55.7 L907.0,56.1 L909.6,56.5 L912.2,57.0 L914.8,57.5 L917.4,57.9 L919.9,58.4 L922.5,58.8 L925.1,59.3 L927.7,59.7 L930.3,60.2 L932.9,60.6 L935.5,61.0 L938.1,61.4 L940.7,61.9 L943.3,62.3 L945.9,62.7 L948.5,63.1 L951.1,63.6 L953.7,64.0 L956.3,64.5 L958.9,65.0 L961.5,65.5 L964.1,66.0 L966.7,66.6 L969.3,67.1 L971.9,67.7 L974.5,68.2 L977.0,68.8 L979.6,69.4 L982.2,70.0 L984.8,70.7 L987.4,71.3 L990.0,72.0 L992.6,72.7 L995.2,73.3 L997.8,74.0 L1000.4,74.8 L1003.0,75.5 L1005.6,76.3 L1008.2,77.0 L1010.8,77.8 L1013.4,78.7 L1016.0,79.5 L1018.6,80.4 L1021.2,81.3 L1023.8,82.3 L1026.4,83.3 L1029.0,84.3 L1031.6,85.3 L1034.1,86.4 L1036.7,87.5 L1039.3,88.7 L1041.9,89.8 L1044.5,91.0 L1047.1,92.2 L1049.7,93.5 L1052.3,94.7 L1054.9,96.0 L1057.5,97.2 L1060.1,98.5 L1062.7,99.7 L1065.3,101.0 L1067.9,102.4 L1070.5,103.8 L1073.1,105.2 L1075.7,106.8 L1078.3,108.5 L1080.9,110.3 L1083.5,112.2 L1086.1,114.3 L1088.7,116.4 L1091.2,118.7 L1093.8,121.1 L1096.4,123.6 L1099.0,126.3 L1101.6,129.1 L1104.2,132.1 L1106.8,135.3 L1109.4,138.8 L1112.0,142.5 L1114.6,146.5 L1117.2,150.9 L1119.7,155.6 L1119.8,155.7 L1122.4,161.1 L1122.4,161.1 L1124.8,166.6 L1125.0,167.0 L1127.0,172.0 L1127.6,173.7 L1128.9,177.5 L1130.2,181.4 L1130.6,182.9 L1132.2,188.4 L1132.8,190.5 L1133.6,193.8 L1134.8,199.2 L1135.4,201.6 L1136.0,204.5 L1137.0,209.9 L1137.9,215.2 L1138.0,215.7 L1138.7,220.4 L1139.4,225.6 L1140.1,230.7 L1140.6,234.9 L1140.7,235.7 L1141.2,240.7 L1141.6,245.5 L1142.1,250.1 L1142.4,254.6 L1142.8,258.9 L1143.1,263.0 L1143.2,263.8 L1143.4,266.8 L1143.6,270.4 L1143.8,273.7 L1144.0,276.7 L1144.2,279.4 L1144.4,281.8 L1144.5,284.0 L1144.6,285.8 L1144.8,287.4 L1144.9,288.8 L1144.9,289.9 L1145.0,290.9 L1145.1,291.7 L1145.2,292.3 L1145.2,292.9 L1145.3,293.3 L1145.3,293.7 L1145.4,294.0 L1145.4,294.2 L1145.4,294.4 L1145.5,294.6 L1145.5,294.7 L1145.5,294.8 L1145.6,294.9 L1145.6,295.0 L1145.6,295.1 L1145.6,295.1 L1145.6,295.1 L1145.6,295.2 L1145.6,295.2 L1145.7,295.2 L1145.7,295.2 L1145.7,295.2 L1145.7,295.2 L1145.7,295.2 L1145.7,295.3 L1145.7,295.3 L1145.7,295.3 L1145.7,295.3 L1145.7,295.3 L1145.7,295.3 L1145.7,295.3 L1145.7,295.3 L1145.7,295.3 L1145.7,295.3 L1145.7,295.3 L1145.7,295.3 L1145.7,295.3 L1145.7,295.3 L1145.7,295.3 L1145.7,295.3 L1145.7,295.3 L1145.7,295.3 L1145.7,295.3 L1145.7,295.3 L1145.7,295.3 L1145.7,295.3 L1145.7,295.3 L1145.7,295.3 L1145.7,295.3 L1145.7,295.3 L1145.7,295.3 L1145.7,295.3 L1145.7,295.3 L1145.7,295.3 L1145.7,295.3 L1145.7,295.3 L1145.7,295.3 L1145.8,295.3 L1145.8,295.3 L1145.8,295.3 L1145.8,295.3 L1145.8,295.3 L1145.8,295.3 L1145.8,295.3 L1145.8,295.3 L1145.8,295.3 L1145.8,295.3 L1145.8,295.3 L1145.8,295.3 L1145.8,295.3 L1145.8,295.3 L1145.8,295.3 L1145.8,295.3 L1145.8,295.3 L1145.8,295.3 L1145.8,295.3 L1145.8,295.3 L1145.8,295.3 L1145.8,295.3 L1145.8,295.3 L1145.8,295.3 L1145.8,295.3 L1145.8,295.3 L1145.8,295.3 L1145.8,295.3 L1145.8,295.3 L1145.8,295.3 L1145.8,295.3 L1145.8,295.3 L1145.8,295.3 L1145.8,295.3 L1145.8,295.2 L1145.8,295.2 L1145.8,295.2 L1145.8,295.2 L1145.8,295.2 L1145.9,295.2 L1145.9,295.2 L1145.9,295.1 L1145.9,295.1 L1145.9,295.1 L1145.9,295.0 L1145.9,294.9 L1146.0,294.8 L1146.0,294.7 L1146.0,294.6 L1146.1,294.4 L1146.1,294.2 L1146.1,294.0 L1146.2,293.7 L1146.2,293.3 L1146.3,292.9 L1146.3,292.3 L1146.4,291.7 L1146.5,290.9 L1146.6,289.9 L1146.6,288.8 L1146.7,287.4 L1146.9,285.8 L1147.0,284.0 L1147.1,281.8 L1147.3,279.4 L1147.5,276.7 L1147.7,273.7 L1147.9,270.4 L1148.1,266.8 L1148.3,263.8 L1148.4,263.0 L1148.7,258.9 L1149.1,254.6 L1149.4,250.1 L1149.9,245.5 L1150.3,240.7 L1150.8,235.7 L1150.9,234.9 L1151.4,230.7 L1152.1,225.6 L1152.8,220.4 L1153.5,215.7 L1153.6,215.2 L1154.5,209.9 L1155.5,204.5 L1156.1,201.6 L1156.7,199.2 L1157.9,193.8 L1158.7,190.5 L1159.3,188.4 L1160.9,182.9 L1161.3,181.4 L1162.6,177.5 L1163.9,173.7 L1164.5,172.0 L1166.5,167.0 L1166.7,166.6 L1169.1,161.1 L1169.1,161.1 L1171.7,155.7 L1171.8,155.6 L1174.3,150.9 L1176.9,146.5 L1179.5,142.5 L1182.1,138.8 L1184.7,135.3 L1187.3,132.1 L1189.9,129.1 L1192.5,126.3 L1195.1,123.6 L1197.7,121.1 L1200.3,118.7 L1202.8,116.4 L1205.4,114.3 L1208.0,112.2 L1210.6,110.3 L1213.2,108.5 L1215.8,106.8 L1218.4,105.2 L1221.0,103.8 L1223.6,102.4 L1226.2,101.0 L1228.8,99.7 L1231.4,98.5 L1234.0,97.2 L1236.6,96.0 L1239.2,94.7 L1241.8,93.5 L1244.4,92.2 L1247.0,91.0 L1249.6,89.8 L1252.2,88.7 L1254.8,87.5 L1257.4,86.4 L1259.9,85.3 L1262.5,84.3 L1265.1,83.3 L1267.7,82.3 L1270.3,81.3 L1272.9,80.4 L1275.5,79.5 L1278.1,78.7 L1280.7,77.8 L1283.3,77.0 L1285.9,76.3 L1288.5,75.5 L1291.1,74.8 L1293.7,74.0 L1296.3,73.3 L1298.9,72.7 L1301.5,72.0 L1304.1,71.3 L1306.7,70.7 L1309.3,70.0 L1311.9,69.4 L1314.5,68.8 L1317.0,68.2 L1319.6,67.7 L1322.2,67.1 L1324.8,66.6 L1327.4,66.0 L1330.0,65.5 L1332.6,65.0 L1335.2,64.5 L1337.8,64.0 L1340.4,63.6 L1343.0,63.1 L1345.6,62.7 L1348.2,62.3 L1350.8,61.9 L1353.4,61.4 L1356.0,61.0 L1358.6,60.6 L1361.2,60.2 L1363.8,59.7 L1366.4,59.3 L1369.0,58.8 L1371.6,58.4 L1374.1,57.9 L1376.7,57.5 L1379.3,57.0 L1381.9,56.5 L1384.5,56.1 L1387.1,55.7 L1389.7,55.3 L1392.3,54.9 L1394.9,54.5 L1397.5,54.2 L1400.1,53.9 L1402.7,53.6 L1405.3,53.4 L1407.9,53.2 L1410.5,53.0 L1413.1,52.8 L1415.7,52.6 L1418.3,52.4 L1420.9,52.2 L1423.5,51.9 L1426.1,51.6 L1428.7,51.2 L1431.2,50.9 L1433.8,50.6 L1436.4,50.3 L1439.0,49.9 L1441.6,49.6 L1444.2,49.2 L1446.8,48.9 L1449.4,48.5 L1452.0,48.1 L1454.6,47.7 L1457.2,47.3" fill="none" stroke="#0072bd" stroke-width="2.4" stroke-linejoin="round" clip-path="url(#plotclip)"/>
<circle cx="1456.2" cy="47.5" r="3.6" fill="#0072bd"/>
<circle cx="1425.0" cy="51.7" r="3.6" fill="#0072bd"/>
<circle cx="1393.9" cy="54.6" r="3.6" fill="#0072bd"/>
<circle cx="1362.7" cy="59.9" r="3.6" fill="#0072bd"/>
<circle cx="1331.6" cy="65.2" r="3.6" fill="#0072bd"/>
<circle cx="1300.4" cy="72.3" r="3.6" fill="#0072bd"/>
<circle cx="1269.3" cy="81.7" r="3.6" fill="#0072bd"/>
<circle cx="1238.1" cy="95.2" r="3.6" fill="#0072bd"/>
<circle cx="1207.0" cy="113.0" r="3.6" fill="#0072bd"/>
<circle cx="1175.9" cy="148.3" r="3.6" fill="#0072bd"/>
<circle cx="1144.7" cy="286.9" r="3.6" fill="#0072bd"/>
<circle cx="1113.6" cy="144.9" r="3.6" fill="#0072bd"/>
<circle cx="1082.4" cy="111.4" r="3.6" fill="#0072bd"/>
<circle cx="1051.3" cy="94.2" r="3.6" fill="#0072bd"/>
<circle cx="1020.1" cy="80.9" r="3.6" fill="#0072bd"/>
<circle cx="989.0" cy="71.7" r="3.6" fill="#0072bd"/>
<circle cx="957.8" cy="64.8" r="3.6" fill="#0072bd"/>
<circle cx="926.7" cy="59.6" r="3.6" fill="#0072bd"/>
<circle cx="895.6" cy="54.4" r="3.6" fill="#0072bd"/>
<circle cx="864.4" cy="51.5" r="3.6" fill="#0072bd"/>
<path d="M834.3,58.3 L836.9,59.1 L839.5,59.8 L842.1,60.5 L844.7,61.2 L847.3,61.9 L849.9,62.6 L852.5,63.4 L855.1,64.1 L857.7,64.8 L860.3,65.6 L862.8,66.3 L865.4,67.0 L868.0,67.8 L870.6,68.5 L873.2,69.3 L875.8,70.0 L878.4,70.8 L881.0,71.6 L883.6,72.3 L886.2,73.1 L888.8,73.9 L891.4,74.7 L894.0,75.4 L896.6,76.2 L899.2,77.0 L901.8,77.8 L904.4,78.6 L907.0,79.4 L909.6,80.2 L912.2,81.0 L914.8,81.8 L917.4,82.7 L919.9,83.5 L922.5,84.3 L925.1,85.2 L927.7,86.0 L930.3,86.8 L932.9,87.7 L935.5,88.6 L938.1,89.4 L940.7,90.3 L943.3,91.2 L945.9,92.1 L948.5,92.9 L951.1,93.8 L953.7,94.7 L956.3,95.7 L958.9,96.6 L961.5,97.5 L964.1,98.4 L966.7,99.4 L969.3,100.3 L971.9,101.3 L974.5,102.2 L977.0,103.2 L979.6,104.2 L982.2,105.2 L984.8,106.2 L987.4,107.2 L990.0,108.3 L992.6,109.3 L995.2,110.4 L997.8,111.4 L1000.4,112.5 L1003.0,113.6 L1005.6,114.7 L1008.2,115.8 L1010.8,117.0 L1013.4,118.1 L1016.0,119.3 L1018.6,120.5 L1021.2,121.7 L1023.8,122.9 L1026.4,124.1 L1029.0,125.4 L1031.6,126.7 L1034.1,128.0 L1036.7,129.3 L1039.3,130.7 L1041.9,132.1 L1044.5,133.5 L1047.1,134.9 L1049.7,136.4 L1052.3,137.9 L1054.9,139.5 L1057.5,141.1 L1060.1,142.7 L1062.7,144.4 L1065.3,146.1 L1067.9,147.9 L1070.5,149.7 L1073.1,151.5 L1075.7,153.5 L1078.3,155.5 L1080.9,157.6 L1083.5,159.7 L1086.1,162.0 L1088.7,164.3 L1091.2,166.7 L1093.8,169.3 L1096.4,171.9 L1099.0,174.7 L1101.6,177.7 L1104.2,180.8 L1106.8,184.1 L1109.4,187.7 L1112.0,191.5 L1114.6,195.5 L1117.2,200.0 L1119.7,204.7 L1119.8,204.8 L1122.4,210.2 L1122.4,210.2 L1124.8,215.7 L1125.0,216.1 L1127.0,221.2 L1127.6,222.9 L1128.9,226.7 L1130.2,230.6 L1130.6,232.2 L1132.2,237.6 L1132.8,239.8 L1133.6,243.0 L1134.8,248.4 L1135.4,250.9 L1136.0,253.8 L1137.0,259.2 L1137.9,264.5 L1138.0,265.0 L1138.7,269.7 L1139.4,275.0 L1140.1,280.1 L1140.6,284.4 L1140.7,285.2 L1141.2,290.2 L1141.6,295.1 L1142.1,299.8 L1142.4,304.4 L1142.8,308.8 L1143.1,313.0 L1143.2,313.9 L1143.4,317.0 L1143.6,320.8 L1143.8,324.2 L1144.0,327.4 L1144.2,330.3 L1144.4,332.9 L1144.5,335.2 L1144.6,337.2 L1144.8,339.0 L1144.9,340.4 L1144.9,341.7 L1145.0,342.8 L1145.1,343.7 L1145.2,344.4 L1145.2,345.0 L1145.3,345.5 L1145.3,346.0 L1145.4,346.3 L1145.4,346.6 L1145.4,346.8 L1145.5,347.0 L1145.5,347.1 L1145.5,347.3 L1145.6,347.3 L1145.6,347.4 L1145.6,347.5 L1145.6,347.5 L1145.6,347.6 L1145.6,347.6 L1145.6,347.6 L1145.7,347.7 L1145.7,347.7 L1145.7,347.7 L1145.7,347.7 L1145.7,347.7 L1145.7,347.7 L1145.7,347.7 L1145.7,347.7 L1145.7,347.7 L1145.7,347.7 L1145.7,347.7 L1145.7,347.7 L1145.7,347.7 L1145.7,347.7 L1145.7,347.7 L1145.7,347.7 L1145.7,347.7 L1145.7,347.7 L1145.7,347.7 L1145.7,347.7 L1145.7,347.7 L1145.7,347.7 L1145.7,347.7 L1145.7,347.7 L1145.7,347.7 L1145.7,347.7 L1145.7,347.7 L1145.7,347.7 L1145.7,347.7 L1145.7,347.7 L1145.7,347.7 L1145.7,347.7 L1145.7,347.7 L1145.7,347.7 L1145.7,347.7 L1145.7,347.7 L1145.7,347.7 L1145.7,347.7 L1145.8,347.8 L1145.8,347.7 L1145.8,347.7 L1145.8,347.7 L1145.8,347.7 L1145.8,347.7 L1145.8,347.7 L1145.8,347.7 L1145.8,347.7 L1145.8,347.7 L1145.8,347.7 L1145.8,347.7 L1145.8,347.7 L1145.8,347.7 L1145.8,347.7 L1145.8,347.7 L1145.8,347.7 L1145.8,347.7 L1145.8,347.7 L1145.8,347.7 L1145.8,347.7 L1145.8,347.7 L1145.8,347.7 L1145.8,347.7 L1145.8,347.7 L1145.8,347.7 L1145.8,347.7 L1145.8,347.7 L1145.8,347.7 L1145.8,347.7 L1145.8,347.7 L1145.8,347.7 L1145.8,347.7 L1145.8,347.7 L1145.8,347.7 L1145.8,347.7 L1145.8,347.7 L1145.8,347.7 L1145.8,347.7 L1145.9,347.6 L1145.9,347.6 L1145.9,347.6 L1145.9,347.5 L1145.9,347.5 L1145.9,347.4 L1145.9,347.3 L1146.0,347.3 L1146.0,347.1 L1146.0,347.0 L1146.1,346.8 L1146.1,346.6 L1146.1,346.3 L1146.2,346.0 L1146.2,345.5 L1146.3,345.0 L1146.3,344.4 L1146.4,343.7 L1146.5,342.8 L1146.6,341.7 L1146.6,340.4 L1146.7,339.0 L1146.9,337.2 L1147.0,335.2 L1147.1,332.9 L1147.3,330.3 L1147.5,327.4 L1147.7,324.2 L1147.9,320.8 L1148.1,317.0 L1148.3,313.9 L1148.4,313.0 L1148.7,308.8 L1149.1,304.4 L1149.4,299.8 L1149.9,295.1 L1150.3,290.2 L1150.8,285.2 L1150.9,284.4 L1151.4,280.1 L1152.1,275.0 L1152.8,269.7 L1153.5,265.0 L1153.6,264.5 L1154.5,259.2 L1155.5,253.8 L1156.1,250.9 L1156.7,248.4 L1157.9,243.0 L1158.7,239.8 L1159.3,237.6 L1160.9,232.2 L1161.3,230.6 L1162.6,226.7 L1163.9,222.9 L1164.5,221.2 L1166.5,216.1 L1166.7,215.7 L1169.1,210.2 L1169.1,210.2 L1171.7,204.8 L1171.8,204.7 L1174.3,200.0 L1176.9,195.5 L1179.5,191.5 L1182.1,187.7 L1184.7,184.1 L1187.3,180.8 L1189.9,177.7 L1192.5,174.7 L1195.1,171.9 L1197.7,169.3 L1200.3,166.7 L1202.8,164.3 L1205.4,162.0 L1208.0,159.7 L1210.6,157.6 L1213.2,155.5 L1215.8,153.5 L1218.4,151.5 L1221.0,149.7 L1223.6,147.9 L1226.2,146.1 L1228.8,144.4 L1231.4,142.7 L1234.0,141.1 L1236.6,139.5 L1239.2,137.9 L1241.8,136.4 L1244.4,134.9 L1247.0,133.5 L1249.6,132.1 L1252.2,130.7 L1254.8,129.3 L1257.4,128.0 L1259.9,126.7 L1262.5,125.4 L1265.1,124.1 L1267.7,122.9 L1270.3,121.7 L1272.9,120.5 L1275.5,119.3 L1278.1,118.1 L1280.7,117.0 L1283.3,115.8 L1285.9,114.7 L1288.5,113.6 L1291.1,112.5 L1293.7,111.4 L1296.3,110.4 L1298.9,109.3 L1301.5,108.3 L1304.1,107.2 L1306.7,106.2 L1309.3,105.2 L1311.9,104.2 L1314.5,103.2 L1317.0,102.2 L1319.6,101.3 L1322.2,100.3 L1324.8,99.4 L1327.4,98.4 L1330.0,97.5 L1332.6,96.6 L1335.2,95.7 L1337.8,94.7 L1340.4,93.8 L1343.0,92.9 L1345.6,92.1 L1348.2,91.2 L1350.8,90.3 L1353.4,89.4 L1356.0,88.6 L1358.6,87.7 L1361.2,86.8 L1363.8,86.0 L1366.4,85.2 L1369.0,84.3 L1371.6,83.5 L1374.1,82.7 L1376.7,81.8 L1379.3,81.0 L1381.9,80.2 L1384.5,79.4 L1387.1,78.6 L1389.7,77.8 L1392.3,77.0 L1394.9,76.2 L1397.5,75.4 L1400.1,74.7 L1402.7,73.9 L1405.3,73.1 L1407.9,72.3 L1410.5,71.6 L1413.1,70.8 L1415.7,70.0 L1418.3,69.3 L1420.9,68.5 L1423.5,67.8 L1426.1,67.0 L1428.7,66.3 L1431.2,65.6 L1433.8,64.8 L1436.4,64.1 L1439.0,63.4 L1441.6,62.6 L1444.2,61.9 L1446.8,61.2 L1449.4,60.5 L1452.0,59.8 L1454.6,59.1 L1457.2,58.3" fill="none" stroke="#7e2f8e" stroke-width="2.4" stroke-linejoin="round" clip-path="url(#plotclip)"/>
<path d="M834.3,44.2 L836.9,43.9 L839.5,43.7 L842.1,43.4 L844.7,43.2 L847.3,42.9 L849.9,42.7 L852.5,42.4 L855.1,42.2 L857.7,41.9 L860.3,41.7 L862.8,41.5 L865.4,41.2 L868.0,41.0 L870.6,40.8 L873.2,40.5 L875.8,40.3 L878.4,40.1 L881.0,39.9 L883.6,39.6 L886.2,39.4 L888.8,39.2 L891.4,39.0 L894.0,38.7 L896.6,38.5 L899.2,38.3 L901.8,38.1 L904.4,37.9 L907.0,37.7 L909.6,37.5 L912.2,37.3 L914.8,37.1 L917.4,36.9 L919.9,36.7 L922.5,36.5 L925.1,36.3 L927.7,36.1 L930.3,35.9 L932.9,35.7 L935.5,35.5 L938.1,35.3 L940.7,35.2 L943.3,35.0 L945.9,34.8 L948.5,34.6 L951.1,34.4 L953.7,34.3 L956.3,34.1 L958.9,33.9 L961.5,33.7 L964.1,33.6 L966.7,33.4 L969.3,33.2 L971.9,33.1 L974.5,32.9 L977.0,32.8 L979.6,32.6 L982.2,32.5 L984.8,32.3 L987.4,32.2 L990.0,32.0 L992.6,31.9 L995.2,31.7 L997.8,31.6 L1000.4,31.4 L1003.0,31.3 L1005.6,31.2 L1008.2,31.0 L1010.8,30.9 L1013.4,30.8 L1016.0,30.6 L1018.6,30.5 L1021.2,30.4 L1023.8,30.3 L1026.4,30.1 L1029.0,30.0 L1031.6,29.9 L1034.1,29.8 L1036.7,29.7 L1039.3,29.6 L1041.9,29.5 L1044.5,29.4 L1047.1,29.3 L1049.7,29.2 L1052.3,29.1 L1054.9,29.0 L1057.5,28.9 L1060.1,28.8 L1062.7,28.7 L1065.3,28.6 L1067.9,28.5 L1070.5,28.4 L1073.1,28.3 L1075.7,28.3 L1078.3,28.2 L1080.9,28.1 L1083.5,28.0 L1086.1,28.0 L1088.7,27.9 L1091.2,27.8 L1093.8,27.8 L1096.4,27.7 L1099.0,27.7 L1101.6,27.6 L1104.2,27.6 L1106.8,27.5 L1109.4,27.5 L1112.0,27.4 L1114.6,27.4 L1117.2,27.3 L1119.7,27.3 L1119.8,27.3 L1122.4,27.3 L1122.4,27.3 L1124.8,27.2 L1125.0,27.2 L1127.0,27.2 L1127.6,27.2 L1128.9,27.2 L1130.2,27.2 L1130.6,27.2 L1132.2,27.2 L1132.8,27.2 L1133.6,27.2 L1134.8,27.1 L1135.4,27.1 L1136.0,27.1 L1137.0,27.1 L1137.9,27.1 L1138.0,27.1 L1138.7,27.1 L1139.4,27.1 L1140.1,27.1 L1140.6,27.1 L1140.7,27.1 L1141.2,27.1 L1141.6,27.1 L1142.1,27.1 L1142.4,27.1 L1142.8,27.1 L1143.1,27.1 L1143.2,27.1 L1143.4,27.1 L1143.6,27.1 L1143.8,27.1 L1144.0,27.1 L1144.2,27.1 L1144.4,27.1 L1144.5,27.1 L1144.6,27.1 L1144.8,27.1 L1144.9,27.1 L1144.9,27.1 L1145.0,27.1 L1145.1,27.1 L1145.2,27.1 L1145.2,27.1 L1145.3,27.1 L1145.3,27.1 L1145.4,27.1 L1145.4,27.1 L1145.4,27.1 L1145.5,27.1 L1145.5,27.1 L1145.5,27.1 L1145.6,27.1 L1145.6,27.1 L1145.6,27.1 L1145.6,27.1 L1145.6,27.1 L1145.6,27.1 L1145.6,27.1 L1145.7,27.1 L1145.7,27.1 L1145.7,27.1 L1145.7,27.1 L1145.7,27.1 L1145.7,27.1 L1145.7,27.1 L1145.7,27.1 L1145.7,27.1 L1145.7,27.1 L1145.7,27.1 L1145.7,27.1 L1145.7,27.1 L1145.7,27.1 L1145.7,27.1 L1145.7,27.1 L1145.7,27.1 L1145.7,27.1 L1145.7,27.1 L1145.7,27.1 L1145.7,27.1 L1145.7,27.1 L1145.7,27.1 L1145.7,27.1 L1145.7,27.1 L1145.7,27.1 L1145.7,27.1 L1145.7,27.1 L1145.7,27.1 L1145.7,27.1 L1145.7,27.1 L1145.7,27.1 L1145.7,27.1 L1145.7,27.1 L1145.7,27.1 L1145.7,27.1 L1145.7,27.1 L1145.7,27.1 L1145.8,27.1 L1145.8,27.1 L1145.8,27.1 L1145.8,27.1 L1145.8,27.1 L1145.8,27.1 L1145.8,27.1 L1145.8,27.1 L1145.8,27.1 L1145.8,27.1 L1145.8,27.1 L1145.8,27.1 L1145.8,27.1 L1145.8,27.1 L1145.8,27.1 L1145.8,27.1 L1145.8,27.1 L1145.8,27.1 L1145.8,27.1 L1145.8,27.1 L1145.8,27.1 L1145.8,27.1 L1145.8,27.1 L1145.8,27.1 L1145.8,27.1 L1145.8,27.1 L1145.8,27.1 L1145.8,27.1 L1145.8,27.1 L1145.8,27.1 L1145.8,27.1 L1145.8,27.1 L1145.8,27.1 L1145.8,27.1 L1145.8,27.1 L1145.8,27.1 L1145.8,27.1 L1145.8,27.1 L1145.8,27.1 L1145.9,27.1 L1145.9,27.1 L1145.9,27.1 L1145.9,27.1 L1145.9,27.1 L1145.9,27.1 L1145.9,27.1 L1146.0,27.1 L1146.0,27.1 L1146.0,27.1 L1146.1,27.1 L1146.1,27.1 L1146.1,27.1 L1146.2,27.1 L1146.2,27.1 L1146.3,27.1 L1146.3,27.1 L1146.4,27.1 L1146.5,27.1 L1146.6,27.1 L1146.6,27.1 L1146.7,27.1 L1146.9,27.1 L1147.0,27.1 L1147.1,27.1 L1147.3,27.1 L1147.5,27.1 L1147.7,27.1 L1147.9,27.1 L1148.1,27.1 L1148.3,27.1 L1148.4,27.1 L1148.7,27.1 L1149.1,27.1 L1149.4,27.1 L1149.9,27.1 L1150.3,27.1 L1150.8,27.1 L1150.9,27.1 L1151.4,27.1 L1152.1,27.1 L1152.8,27.1 L1153.5,27.1 L1153.6,27.1 L1154.5,27.1 L1155.5,27.1 L1156.1,27.1 L1156.7,27.1 L1157.9,27.2 L1158.7,27.2 L1159.3,27.2 L1160.9,27.2 L1161.3,27.2 L1162.6,27.2 L1163.9,27.2 L1164.5,27.2 L1166.5,27.2 L1166.7,27.2 L1169.1,27.3 L1169.1,27.3 L1171.7,27.3 L1171.8,27.3 L1174.3,27.3 L1176.9,27.4 L1179.5,27.4 L1182.1,27.5 L1184.7,27.5 L1187.3,27.6 L1189.9,27.6 L1192.5,27.7 L1195.1,27.7 L1197.7,27.8 L1200.3,27.8 L1202.8,27.9 L1205.4,28.0 L1208.0,28.0 L1210.6,28.1 L1213.2,28.2 L1215.8,28.3 L1218.4,28.3 L1221.0,28.4 L1223.6,28.5 L1226.2,28.6 L1228.8,28.7 L1231.4,28.8 L1234.0,28.9 L1236.6,29.0 L1239.2,29.1 L1241.8,29.2 L1244.4,29.3 L1247.0,29.4 L1249.6,29.5 L1252.2,29.6 L1254.8,29.7 L1257.4,29.8 L1259.9,29.9 L1262.5,30.0 L1265.1,30.1 L1267.7,30.3 L1270.3,30.4 L1272.9,30.5 L1275.5,30.6 L1278.1,30.8 L1280.7,30.9 L1283.3,31.0 L1285.9,31.2 L1288.5,31.3 L1291.1,31.4 L1293.7,31.6 L1296.3,31.7 L1298.9,31.9 L1301.5,32.0 L1304.1,32.2 L1306.7,32.3 L1309.3,32.5 L1311.9,32.6 L1314.5,32.8 L1317.0,32.9 L1319.6,33.1 L1322.2,33.2 L1324.8,33.4 L1327.4,33.6 L1330.0,33.7 L1332.6,33.9 L1335.2,34.1 L1337.8,34.3 L1340.4,34.4 L1343.0,34.6 L1345.6,34.8 L1348.2,35.0 L1350.8,35.2 L1353.4,35.3 L1356.0,35.5 L1358.6,35.7 L1361.2,35.9 L1363.8,36.1 L1366.4,36.3 L1369.0,36.5 L1371.6,36.7 L1374.1,36.9 L1376.7,37.1 L1379.3,37.3 L1381.9,37.5 L1384.5,37.7 L1387.1,37.9 L1389.7,38.1 L1392.3,38.3 L1394.9,38.5 L1397.5,38.7 L1400.1,39.0 L1402.7,39.2 L1405.3,39.4 L1407.9,39.6 L1410.5,39.9 L1413.1,40.1 L1415.7,40.3 L1418.3,40.5 L1420.9,40.8 L1423.5,41.0 L1426.1,41.2 L1428.7,41.5 L1431.2,41.7 L1433.8,41.9 L1436.4,42.2 L1439.0,42.4 L1441.6,42.7 L1444.2,42.9 L1446.8,43.2 L1449.4,43.4 L1452.0,43.7 L1454.6,43.9 L1457.2,44.2" fill="none" stroke="#d95319" stroke-width="2.4" stroke-linejoin="round" clip-path="url(#plotclip)"/>
<circle cx="1456.2" cy="44.1" r="3.6" fill="#d95319"/>
<circle cx="1425.0" cy="41.1" r="3.6" fill="#d95319"/>
<circle cx="1393.9" cy="38.4" r="3.6" fill="#d95319"/>
<circle cx="1362.7" cy="36.0" r="3.6" fill="#d95319"/>
<circle cx="1331.6" cy="33.8" r="3.6" fill="#d95319"/>
<circle cx="1300.4" cy="31.9" r="3.6" fill="#d95319"/>
<circle cx="1269.3" cy="30.3" r="3.6" fill="#d95319"/>
<circle cx="1238.1" cy="29.0" r="3.6" fill="#d95319"/>
<circle cx="1207.0" cy="28.0" r="3.6" fill="#d95319"/>
<circle cx="1175.9" cy="27.4" r="3.6" fill="#d95319"/>
<circle cx="1144.7" cy="27.1" r="3.6" fill="#d95319"/>
<circle cx="1113.6" cy="27.4" r="3.6" fill="#d95319"/>
<circle cx="1082.4" cy="28.1" r="3.6" fill="#d95319"/>
<circle cx="1051.3" cy="29.1" r="3.6" fill="#d95319"/>
<circle cx="1020.1" cy="30.4" r="3.6" fill="#d95319"/>
<circle cx="989.0" cy="32.1" r="3.6" fill="#d95319"/>
<circle cx="957.8" cy="34.0" r="3.6" fill="#d95319"/>
<circle cx="926.7" cy="36.2" r="3.6" fill="#d95319"/>
<circle cx="895.6" cy="38.6" r="3.6" fill="#d95319"/>
<circle cx="864.4" cy="41.3" r="3.6" fill="#d95319"/>
<path d="M834.3,53.2 L836.9,52.9 L839.5,52.6 L842.1,52.3 L844.7,52.0 L847.3,51.6 L849.9,51.3 L852.5,51.0 L855.1,50.7 L857.7,50.4 L860.3,50.1 L862.8,49.8 L865.4,49.5 L868.0,49.2 L870.6,48.9 L873.2,48.6 L875.8,48.2 L878.4,47.9 L881.0,47.6 L883.6,47.3 L886.2,47.0 L888.8,46.7 L891.4,46.4 L894.0,46.1 L896.6,45.8 L899.2,45.5 L901.8,45.3 L904.4,45.0 L907.0,44.7 L909.6,44.4 L912.2,44.1 L914.8,43.8 L917.4,43.5 L919.9,43.2 L922.5,42.9 L925.1,42.6 L927.7,42.3 L930.3,42.0 L932.9,41.8 L935.5,41.5 L938.1,41.2 L940.7,40.9 L943.3,40.6 L945.9,40.3 L948.5,40.1 L951.1,39.8 L953.7,39.5 L956.3,39.2 L958.9,38.9 L961.5,38.7 L964.1,38.4 L966.7,38.1 L969.3,37.8 L971.9,37.6 L974.5,37.3 L977.0,37.0 L979.6,36.7 L982.2,36.5 L984.8,36.2 L987.4,35.9 L990.0,35.7 L992.6,35.4 L995.2,35.1 L997.8,34.9 L1000.4,34.6 L1003.0,34.3 L1005.6,34.1 L1008.2,33.8 L1010.8,33.6 L1013.4,33.4 L1016.0,33.1 L1018.6,32.9 L1021.2,32.7 L1023.8,32.4 L1026.4,32.2 L1029.0,32.0 L1031.6,31.8 L1034.1,31.6 L1036.7,31.3 L1039.3,31.1 L1041.9,30.9 L1044.5,30.8 L1047.1,30.6 L1049.7,30.4 L1052.3,30.2 L1054.9,30.0 L1057.5,29.9 L1060.1,29.7 L1062.7,29.6 L1065.3,29.4 L1067.9,29.3 L1070.5,29.1 L1073.1,29.0 L1075.7,28.9 L1078.3,28.7 L1080.9,28.6 L1083.5,28.5 L1086.1,28.4 L1088.7,28.3 L1091.2,28.2 L1093.8,28.1 L1096.4,28.0 L1099.0,27.9 L1101.6,27.8 L1104.2,27.7 L1106.8,27.6 L1109.4,27.6 L1112.0,27.5 L1114.6,27.4 L1117.2,27.4 L1119.7,27.3 L1119.8,27.3 L1122.4,27.3 L1122.4,27.3 L1124.8,27.3 L1125.0,27.3 L1127.0,27.2 L1127.6,27.2 L1128.9,27.2 L1130.2,27.2 L1130.6,27.2 L1132.2,27.2 L1132.8,27.2 L1133.6,27.2 L1134.8,27.2 L1135.4,27.1 L1136.0,27.1 L1137.0,27.1 L1137.9,27.1 L1138.0,27.1 L1138.7,27.1 L1139.4,27.1 L1140.1,27.1 L1140.6,27.1 L1140.7,27.1 L1141.2,27.1 L1141.6,27.1 L1142.1,27.1 L1142.4,27.1 L1142.8,27.1 L1143.1,27.1 L1143.2,27.1 L1143.4,27.1 L1143.6,27.1 L1143.8,27.1 L1144.0,27.1 L1144.2,27.1 L1144.4,27.1 L1144.5,27.1 L1144.6,27.1 L1144.8,27.1 L1144.9,27.1 L1144.9,27.1 L1145.0,27.1 L1145.1,27.1 L1145.2,27.1 L1145.2,27.1 L1145.3,27.1 L1145.3,27.1 L1145.4,27.1 L1145.4,27.1 L1145.4,27.1 L1145.5,27.1 L1145.5,27.1 L1145.5,27.1 L1145.6,27.1 L1145.6,27.1 L1145.6,27.1 L1145.6,27.1 L1145.6,27.1 L1145.6,27.1 L1145.6,27.1 L1145.7,27.1 L1145.7,27.1 L1145.7,27.1 L1145.7,27.1 L1145.7,27.1 L1145.7,27.1 L1145.7,27.1 L1145.7,27.1 L1145.7,27.1 L1145.7,27.1 L1145.7,27.1 L1145.7,27.1 L1145.7,27.1 L1145.7,27.1 L1145.7,27.1 L1145.7,27.1 L1145.7,27.1 L1145.7,27.1 L1145.7,27.1 L1145.7,27.1 L1145.7,27.1 L1145.7,27.1 L1145.7,27.1 L1145.7,27.1 L1145.7,27.1 L1145.7,27.1 L1145.7,27.1 L1145.7,27.1 L1145.7,27.1 L1145.7,27.1 L1145.7,27.1 L1145.7,27.1 L1145.7,27.1 L1145.7,27.1 L1145.7,27.1 L1145.7,27.1 L1145.7,27.1 L1145.7,27.1 L1145.8,27.1 L1145.8,27.1 L1145.8,27.1 L1145.8,27.1 L1145.8,27.1 L1145.8,27.1 L1145.8,27.1 L1145.8,27.1 L1145.8,27.1 L1145.8,27.1 L1145.8,27.1 L1145.8,27.1 L1145.8,27.1 L1145.8,27.1 L1145.8,27.1 L1145.8,27.1 L1145.8,27.1 L1145.8,27.1 L1145.8,27.1 L1145.8,27.1 L1145.8,27.1 L1145.8,27.1 L1145.8,27.1 L1145.8,27.1 L1145.8,27.1 L1145.8,27.1 L1145.8,27.1 L1145.8,27.1 L1145.8,27.1 L1145.8,27.1 L1145.8,27.1 L1145.8,27.1 L1145.8,27.1 L1145.8,27.1 L1145.8,27.1 L1145.8,27.1 L1145.8,27.1 L1145.8,27.1 L1145.8,27.1 L1145.9,27.1 L1145.9,27.1 L1145.9,27.1 L1145.9,27.1 L1145.9,27.1 L1145.9,27.1 L1145.9,27.1 L1146.0,27.1 L1146.0,27.1 L1146.0,27.1 L1146.1,27.1 L1146.1,27.1 L1146.1,27.1 L1146.2,27.1 L1146.2,27.1 L1146.3,27.1 L1146.3,27.1 L1146.4,27.1 L1146.5,27.1 L1146.6,27.1 L1146.6,27.1 L1146.7,27.1 L1146.9,27.1 L1147.0,27.1 L1147.1,27.1 L1147.3,27.1 L1147.5,27.1 L1147.7,27.1 L1147.9,27.1 L1148.1,27.1 L1148.3,27.1 L1148.4,27.1 L1148.7,27.1 L1149.1,27.1 L1149.4,27.1 L1149.9,27.1 L1150.3,27.1 L1150.8,27.1 L1150.9,27.1 L1151.4,27.1 L1152.1,27.1 L1152.8,27.1 L1153.5,27.1 L1153.6,27.1 L1154.5,27.1 L1155.5,27.1 L1156.1,27.1 L1156.7,27.2 L1157.9,27.2 L1158.7,27.2 L1159.3,27.2 L1160.9,27.2 L1161.3,27.2 L1162.6,27.2 L1163.9,27.2 L1164.5,27.2 L1166.5,27.3 L1166.7,27.3 L1169.1,27.3 L1169.1,27.3 L1171.7,27.3 L1171.8,27.3 L1174.3,27.4 L1176.9,27.4 L1179.5,27.5 L1182.1,27.6 L1184.7,27.6 L1187.3,27.7 L1189.9,27.8 L1192.5,27.9 L1195.1,28.0 L1197.7,28.1 L1200.3,28.2 L1202.8,28.3 L1205.4,28.4 L1208.0,28.5 L1210.6,28.6 L1213.2,28.7 L1215.8,28.9 L1218.4,29.0 L1221.0,29.1 L1223.6,29.3 L1226.2,29.4 L1228.8,29.6 L1231.4,29.7 L1234.0,29.9 L1236.6,30.0 L1239.2,30.2 L1241.8,30.4 L1244.4,30.6 L1247.0,30.8 L1249.6,30.9 L1252.2,31.1 L1254.8,31.3 L1257.4,31.6 L1259.9,31.8 L1262.5,32.0 L1265.1,32.2 L1267.7,32.4 L1270.3,32.7 L1272.9,32.9 L1275.5,33.1 L1278.1,33.4 L1280.7,33.6 L1283.3,33.8 L1285.9,34.1 L1288.5,34.3 L1291.1,34.6 L1293.7,34.9 L1296.3,35.1 L1298.9,35.4 L1301.5,35.7 L1304.1,35.9 L1306.7,36.2 L1309.3,36.5 L1311.9,36.7 L1314.5,37.0 L1317.0,37.3 L1319.6,37.6 L1322.2,37.8 L1324.8,38.1 L1327.4,38.4 L1330.0,38.7 L1332.6,38.9 L1335.2,39.2 L1337.8,39.5 L1340.4,39.8 L1343.0,40.1 L1345.6,40.3 L1348.2,40.6 L1350.8,40.9 L1353.4,41.2 L1356.0,41.5 L1358.6,41.8 L1361.2,42.0 L1363.8,42.3 L1366.4,42.6 L1369.0,42.9 L1371.6,43.2 L1374.1,43.5 L1376.7,43.8 L1379.3,44.1 L1381.9,44.4 L1384.5,44.7 L1387.1,45.0 L1389.7,45.3 L1392.3,45.5 L1394.9,45.8 L1397.5,46.1 L1400.1,46.4 L1402.7,46.7 L1405.3,47.0 L1407.9,47.3 L1410.5,47.6 L1413.1,47.9 L1415.7,48.2 L1418.3,48.6 L1420.9,48.9 L1423.5,49.2 L1426.1,49.5 L1428.7,49.8 L1431.2,50.1 L1433.8,50.4 L1436.4,50.7 L1439.0,51.0 L1441.6,51.3 L1444.2,51.6 L1446.8,52.0 L1449.4,52.3 L1452.0,52.6 L1454.6,52.9 L1457.2,53.2" fill="none" stroke="#77ac30" stroke-width="2.4" stroke-linejoin="round" clip-path="url(#plotclip)"/>
<g font-size="24.1" fill="#000">
<text transform="translate(834.7,529.2) scale(1.045,1)" text-anchor="middle">19</text>
<text transform="translate(938.5,529.2) scale(1.045,1)" text-anchor="middle">21</text>
<text transform="translate(1042.3,529.2) scale(1.045,1)" text-anchor="middle">23</text>
<text transform="translate(1146.2,529.2) scale(1.045,1)" text-anchor="middle">25</text>
<text transform="translate(1250.0,529.2) scale(1.045,1)" text-anchor="middle">27</text>
<text transform="translate(1353.8,529.2) scale(1.045,1)" text-anchor="middle">29</text>
<text transform="translate(1457.6,529.2) scale(1.045,1)" text-anchor="middle">31</text>
<text transform="translate(824.4,37.6) scale(1.045,1)" text-anchor="end">0</text>
<text transform="translate(824.4,95.9) scale(1.045,1)" text-anchor="end">−10</text>
<text transform="translate(824.4,154.2) scale(1.045,1)" text-anchor="end">−20</text>
<text transform="translate(824.4,212.5) scale(1.045,1)" text-anchor="end">−30</text>
<text transform="translate(824.4,270.8) scale(1.045,1)" text-anchor="end">−40</text>
<text transform="translate(824.4,329.1) scale(1.045,1)" text-anchor="end">−50</text>
<text transform="translate(824.4,387.4) scale(1.045,1)" text-anchor="end">−60</text>
<text transform="translate(824.4,445.7) scale(1.045,1)" text-anchor="end">−70</text>
<text transform="translate(824.4,504.0) scale(1.045,1)" text-anchor="end">−80</text>
</g>
<text transform="translate(1149.2,565) scale(1.045,1)" font-size="24.1" text-anchor="middle">Frequency (GHz)</text>
<text transform="translate(751.6,259.7) rotate(-90) scale(1.045,1)" font-size="24.1" text-anchor="middle">Magnitude (dB)</text>
<path d="M1327.1,291.0H1355.1" stroke="#000000" stroke-width="2.4"/>
<text x="1363.0" y="298.7" font-size="22"><tspan font-style="italic">S</tspan><tspan font-size="14.6" dy="6.8">11</tspan></text>
<path d="M1327.1,321.9H1355.1" stroke="#8c8c8c" stroke-width="2.4"/>
<text x="1363.0" y="329.6" font-size="22"><tspan font-style="italic">S</tspan><tspan font-size="14.6" dy="6.8">22</tspan></text>
<circle cx="1341.1" cy="353.2" r="3.3" fill="#000000"/>
<text x="1363.0" y="360.9" font-size="22"><tspan font-style="italic">S</tspan><tspan font-size="14.6" dy="6.8">33</tspan></text>
<path d="M1327.1,383.9H1355.1" stroke="#0072bd" stroke-width="2.4"/>
<text x="1363.0" y="391.6" font-size="22"><tspan font-style="italic">S</tspan><tspan font-size="14.6" dy="6.8">12</tspan></text>
<circle cx="1341.1" cy="414.8" r="3.3" fill="#0072bd"/>
<text x="1363.0" y="422.5" font-size="22"><tspan font-style="italic">S</tspan><tspan font-size="14.6" dy="6.8">23</tspan></text>
<path d="M1327.1,446.3H1355.1" stroke="#7e2f8e" stroke-width="2.4"/>
<text x="1363.0" y="454.0" font-size="22"><tspan font-style="italic">S</tspan><tspan font-size="14.6" dy="6.8">31</tspan></text>
<path d="M1248.2,383.9H1276.3" stroke="#d95319" stroke-width="2.4"/>
<text x="1284.6" y="391.6" font-size="22"><tspan font-style="italic">S</tspan><tspan font-size="14.6" dy="6.8">21</tspan></text>
<circle cx="1263.2" cy="414.8" r="3.3" fill="#d95319"/>
<text x="1284.6" y="422.5" font-size="22"><tspan font-style="italic">S</tspan><tspan font-size="14.6" dy="6.8">32</tspan></text>
<path d="M1248.2,446.3H1276.3" stroke="#77ac30" stroke-width="2.4"/>
<text x="1284.6" y="454.0" font-size="22"><tspan font-style="italic">S</tspan><tspan font-size="14.6" dy="6.8">13</tspan></text>
</g>
</svg>
</body></html>
